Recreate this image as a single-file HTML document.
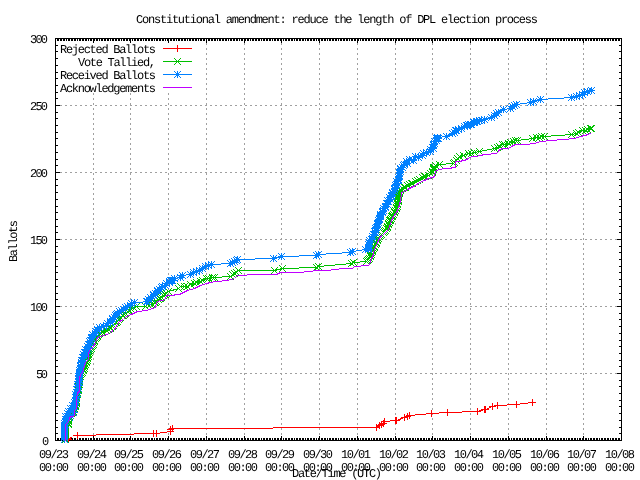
<!DOCTYPE html><html><head><meta charset="utf-8"><title>Constitutional amendment: reduce the length of DPL election process</title><style>html,body{margin:0;padding:0;background:#fff;overflow:hidden}svg{display:block}text{font-family:"Liberation Mono",monospace;font-size:12px;fill:#000;text-rendering:geometricPrecision}</style></head><body>
<svg width="640" height="480" viewBox="0 0 640 480" style="will-change:transform">
<defs>
<path id="mp" d="M-3 0h1v1h-1zM-2 0h1v1h-1zM-1 0h1v1h-1zM0 0h1v1h-1zM1 0h1v1h-1zM2 0h1v1h-1zM3 0h1v1h-1zM0 -3h1v1h-1zM0 -2h1v1h-1zM0 -1h1v1h-1zM0 1h1v1h-1zM0 2h1v1h-1zM0 3h1v1h-1z" fill="#ff0000"/>
<path id="mx" d="M-3 -3h1v1h-1zM-2 -2h1v1h-1zM-1 -1h1v1h-1zM0 0h1v1h-1zM1 1h1v1h-1zM2 2h1v1h-1zM3 3h1v1h-1zM-3 3h1v1h-1zM-2 2h1v1h-1zM-1 1h1v1h-1zM1 -1h1v1h-1zM2 -2h1v1h-1zM3 -3h1v1h-1z" fill="#00c000"/>
<path id="ms" d="M-3 -3h1v1h-1zM-3 0h1v1h-1zM-3 3h1v1h-1zM0 2h1v1h-1zM2 2h1v1h-1zM1 0h1v1h-1zM-2 -2h1v1h-1zM-1 -1h1v1h-1zM-1 1h1v1h-1zM3 -3h1v1h-1zM3 0h1v1h-1zM3 3h1v1h-1zM0 -1h1v1h-1zM0 -2h1v1h-1zM0 1h1v1h-1zM2 -2h1v1h-1zM-2 0h1v1h-1zM-1 0h1v1h-1zM0 -3h1v1h-1zM0 0h1v1h-1zM1 1h1v1h-1zM0 3h1v1h-1zM2 0h1v1h-1zM1 -1h1v1h-1zM-2 2h1v1h-1z" fill="#0080ff"/>
</defs>
<rect width="640" height="480" fill="#fff"/>
<path d="M55 373h2v1h-2zM60 373h2v1h-2zM65 373h2v1h-2zM70 373h2v1h-2zM75 373h2v1h-2zM80 373h2v1h-2zM85 373h2v1h-2zM90 373h2v1h-2zM95 373h2v1h-2zM100 373h2v1h-2zM105 373h2v1h-2zM110 373h2v1h-2zM115 373h2v1h-2zM120 373h2v1h-2zM125 373h2v1h-2zM130 373h2v1h-2zM135 373h2v1h-2zM140 373h2v1h-2zM145 373h2v1h-2zM150 373h2v1h-2zM155 373h2v1h-2zM160 373h2v1h-2zM165 373h2v1h-2zM170 373h2v1h-2zM175 373h2v1h-2zM180 373h2v1h-2zM185 373h2v1h-2zM190 373h2v1h-2zM195 373h2v1h-2zM200 373h2v1h-2zM205 373h2v1h-2zM210 373h2v1h-2zM215 373h2v1h-2zM220 373h2v1h-2zM225 373h2v1h-2zM230 373h2v1h-2zM235 373h2v1h-2zM240 373h2v1h-2zM245 373h2v1h-2zM250 373h2v1h-2zM255 373h2v1h-2zM260 373h2v1h-2zM265 373h2v1h-2zM270 373h2v1h-2zM275 373h2v1h-2zM280 373h2v1h-2zM285 373h2v1h-2zM290 373h2v1h-2zM295 373h2v1h-2zM300 373h2v1h-2zM305 373h2v1h-2zM310 373h2v1h-2zM315 373h2v1h-2zM320 373h2v1h-2zM325 373h2v1h-2zM330 373h2v1h-2zM335 373h2v1h-2zM340 373h2v1h-2zM345 373h2v1h-2zM350 373h2v1h-2zM355 373h2v1h-2zM360 373h2v1h-2zM365 373h2v1h-2zM370 373h2v1h-2zM375 373h2v1h-2zM380 373h2v1h-2zM385 373h2v1h-2zM390 373h2v1h-2zM395 373h2v1h-2zM400 373h2v1h-2zM405 373h2v1h-2zM410 373h2v1h-2zM415 373h2v1h-2zM420 373h2v1h-2zM425 373h2v1h-2zM430 373h2v1h-2zM435 373h2v1h-2zM440 373h2v1h-2zM445 373h2v1h-2zM450 373h2v1h-2zM455 373h2v1h-2zM460 373h2v1h-2zM465 373h2v1h-2zM470 373h2v1h-2zM475 373h2v1h-2zM480 373h2v1h-2zM485 373h2v1h-2zM490 373h2v1h-2zM495 373h2v1h-2zM500 373h2v1h-2zM505 373h2v1h-2zM510 373h2v1h-2zM515 373h2v1h-2zM520 373h2v1h-2zM525 373h2v1h-2zM530 373h2v1h-2zM535 373h2v1h-2zM540 373h2v1h-2zM545 373h2v1h-2zM550 373h2v1h-2zM555 373h2v1h-2zM560 373h2v1h-2zM565 373h2v1h-2zM570 373h2v1h-2zM575 373h2v1h-2zM580 373h2v1h-2zM585 373h2v1h-2zM590 373h2v1h-2zM595 373h2v1h-2zM600 373h2v1h-2zM605 373h2v1h-2zM610 373h2v1h-2zM615 373h2v1h-2zM620 373h2v1h-2zM55 306h2v1h-2zM60 306h2v1h-2zM65 306h2v1h-2zM70 306h2v1h-2zM75 306h2v1h-2zM80 306h2v1h-2zM85 306h2v1h-2zM90 306h2v1h-2zM95 306h2v1h-2zM100 306h2v1h-2zM105 306h2v1h-2zM110 306h2v1h-2zM115 306h2v1h-2zM120 306h2v1h-2zM125 306h2v1h-2zM130 306h2v1h-2zM135 306h2v1h-2zM140 306h2v1h-2zM145 306h2v1h-2zM150 306h2v1h-2zM155 306h2v1h-2zM160 306h2v1h-2zM165 306h2v1h-2zM170 306h2v1h-2zM175 306h2v1h-2zM180 306h2v1h-2zM185 306h2v1h-2zM190 306h2v1h-2zM195 306h2v1h-2zM200 306h2v1h-2zM205 306h2v1h-2zM210 306h2v1h-2zM215 306h2v1h-2zM220 306h2v1h-2zM225 306h2v1h-2zM230 306h2v1h-2zM235 306h2v1h-2zM240 306h2v1h-2zM245 306h2v1h-2zM250 306h2v1h-2zM255 306h2v1h-2zM260 306h2v1h-2zM265 306h2v1h-2zM270 306h2v1h-2zM275 306h2v1h-2zM280 306h2v1h-2zM285 306h2v1h-2zM290 306h2v1h-2zM295 306h2v1h-2zM300 306h2v1h-2zM305 306h2v1h-2zM310 306h2v1h-2zM315 306h2v1h-2zM320 306h2v1h-2zM325 306h2v1h-2zM330 306h2v1h-2zM335 306h2v1h-2zM340 306h2v1h-2zM345 306h2v1h-2zM350 306h2v1h-2zM355 306h2v1h-2zM360 306h2v1h-2zM365 306h2v1h-2zM370 306h2v1h-2zM375 306h2v1h-2zM380 306h2v1h-2zM385 306h2v1h-2zM390 306h2v1h-2zM395 306h2v1h-2zM400 306h2v1h-2zM405 306h2v1h-2zM410 306h2v1h-2zM415 306h2v1h-2zM420 306h2v1h-2zM425 306h2v1h-2zM430 306h2v1h-2zM435 306h2v1h-2zM440 306h2v1h-2zM445 306h2v1h-2zM450 306h2v1h-2zM455 306h2v1h-2zM460 306h2v1h-2zM465 306h2v1h-2zM470 306h2v1h-2zM475 306h2v1h-2zM480 306h2v1h-2zM485 306h2v1h-2zM490 306h2v1h-2zM495 306h2v1h-2zM500 306h2v1h-2zM505 306h2v1h-2zM510 306h2v1h-2zM515 306h2v1h-2zM520 306h2v1h-2zM525 306h2v1h-2zM530 306h2v1h-2zM535 306h2v1h-2zM540 306h2v1h-2zM545 306h2v1h-2zM550 306h2v1h-2zM555 306h2v1h-2zM560 306h2v1h-2zM565 306h2v1h-2zM570 306h2v1h-2zM575 306h2v1h-2zM580 306h2v1h-2zM585 306h2v1h-2zM590 306h2v1h-2zM595 306h2v1h-2zM600 306h2v1h-2zM605 306h2v1h-2zM610 306h2v1h-2zM615 306h2v1h-2zM620 306h2v1h-2zM55 239h2v1h-2zM60 239h2v1h-2zM65 239h2v1h-2zM70 239h2v1h-2zM75 239h2v1h-2zM80 239h2v1h-2zM85 239h2v1h-2zM90 239h2v1h-2zM95 239h2v1h-2zM100 239h2v1h-2zM105 239h2v1h-2zM110 239h2v1h-2zM115 239h2v1h-2zM120 239h2v1h-2zM125 239h2v1h-2zM130 239h2v1h-2zM135 239h2v1h-2zM140 239h2v1h-2zM145 239h2v1h-2zM150 239h2v1h-2zM155 239h2v1h-2zM160 239h2v1h-2zM165 239h2v1h-2zM170 239h2v1h-2zM175 239h2v1h-2zM180 239h2v1h-2zM185 239h2v1h-2zM190 239h2v1h-2zM195 239h2v1h-2zM200 239h2v1h-2zM205 239h2v1h-2zM210 239h2v1h-2zM215 239h2v1h-2zM220 239h2v1h-2zM225 239h2v1h-2zM230 239h2v1h-2zM235 239h2v1h-2zM240 239h2v1h-2zM245 239h2v1h-2zM250 239h2v1h-2zM255 239h2v1h-2zM260 239h2v1h-2zM265 239h2v1h-2zM270 239h2v1h-2zM275 239h2v1h-2zM280 239h2v1h-2zM285 239h2v1h-2zM290 239h2v1h-2zM295 239h2v1h-2zM300 239h2v1h-2zM305 239h2v1h-2zM310 239h2v1h-2zM315 239h2v1h-2zM320 239h2v1h-2zM325 239h2v1h-2zM330 239h2v1h-2zM335 239h2v1h-2zM340 239h2v1h-2zM345 239h2v1h-2zM350 239h2v1h-2zM355 239h2v1h-2zM360 239h2v1h-2zM365 239h2v1h-2zM370 239h2v1h-2zM375 239h2v1h-2zM380 239h2v1h-2zM385 239h2v1h-2zM390 239h2v1h-2zM395 239h2v1h-2zM400 239h2v1h-2zM405 239h2v1h-2zM410 239h2v1h-2zM415 239h2v1h-2zM420 239h2v1h-2zM425 239h2v1h-2zM430 239h2v1h-2zM435 239h2v1h-2zM440 239h2v1h-2zM445 239h2v1h-2zM450 239h2v1h-2zM455 239h2v1h-2zM460 239h2v1h-2zM465 239h2v1h-2zM470 239h2v1h-2zM475 239h2v1h-2zM480 239h2v1h-2zM485 239h2v1h-2zM490 239h2v1h-2zM495 239h2v1h-2zM500 239h2v1h-2zM505 239h2v1h-2zM510 239h2v1h-2zM515 239h2v1h-2zM520 239h2v1h-2zM525 239h2v1h-2zM530 239h2v1h-2zM535 239h2v1h-2zM540 239h2v1h-2zM545 239h2v1h-2zM550 239h2v1h-2zM555 239h2v1h-2zM560 239h2v1h-2zM565 239h2v1h-2zM570 239h2v1h-2zM575 239h2v1h-2zM580 239h2v1h-2zM585 239h2v1h-2zM590 239h2v1h-2zM595 239h2v1h-2zM600 239h2v1h-2zM605 239h2v1h-2zM610 239h2v1h-2zM615 239h2v1h-2zM620 239h2v1h-2zM55 172h2v1h-2zM60 172h2v1h-2zM65 172h2v1h-2zM70 172h2v1h-2zM75 172h2v1h-2zM80 172h2v1h-2zM85 172h2v1h-2zM90 172h2v1h-2zM95 172h2v1h-2zM100 172h2v1h-2zM105 172h2v1h-2zM110 172h2v1h-2zM115 172h2v1h-2zM120 172h2v1h-2zM125 172h2v1h-2zM130 172h2v1h-2zM135 172h2v1h-2zM140 172h2v1h-2zM145 172h2v1h-2zM150 172h2v1h-2zM155 172h2v1h-2zM160 172h2v1h-2zM165 172h2v1h-2zM170 172h2v1h-2zM175 172h2v1h-2zM180 172h2v1h-2zM185 172h2v1h-2zM190 172h2v1h-2zM195 172h2v1h-2zM200 172h2v1h-2zM205 172h2v1h-2zM210 172h2v1h-2zM215 172h2v1h-2zM220 172h2v1h-2zM225 172h2v1h-2zM230 172h2v1h-2zM235 172h2v1h-2zM240 172h2v1h-2zM245 172h2v1h-2zM250 172h2v1h-2zM255 172h2v1h-2zM260 172h2v1h-2zM265 172h2v1h-2zM270 172h2v1h-2zM275 172h2v1h-2zM280 172h2v1h-2zM285 172h2v1h-2zM290 172h2v1h-2zM295 172h2v1h-2zM300 172h2v1h-2zM305 172h2v1h-2zM310 172h2v1h-2zM315 172h2v1h-2zM320 172h2v1h-2zM325 172h2v1h-2zM330 172h2v1h-2zM335 172h2v1h-2zM340 172h2v1h-2zM345 172h2v1h-2zM350 172h2v1h-2zM355 172h2v1h-2zM360 172h2v1h-2zM365 172h2v1h-2zM370 172h2v1h-2zM375 172h2v1h-2zM380 172h2v1h-2zM385 172h2v1h-2zM390 172h2v1h-2zM395 172h2v1h-2zM400 172h2v1h-2zM405 172h2v1h-2zM410 172h2v1h-2zM415 172h2v1h-2zM420 172h2v1h-2zM425 172h2v1h-2zM430 172h2v1h-2zM435 172h2v1h-2zM440 172h2v1h-2zM445 172h2v1h-2zM450 172h2v1h-2zM455 172h2v1h-2zM460 172h2v1h-2zM465 172h2v1h-2zM470 172h2v1h-2zM475 172h2v1h-2zM480 172h2v1h-2zM485 172h2v1h-2zM490 172h2v1h-2zM495 172h2v1h-2zM500 172h2v1h-2zM505 172h2v1h-2zM510 172h2v1h-2zM515 172h2v1h-2zM520 172h2v1h-2zM525 172h2v1h-2zM530 172h2v1h-2zM535 172h2v1h-2zM540 172h2v1h-2zM545 172h2v1h-2zM550 172h2v1h-2zM555 172h2v1h-2zM560 172h2v1h-2zM565 172h2v1h-2zM570 172h2v1h-2zM575 172h2v1h-2zM580 172h2v1h-2zM585 172h2v1h-2zM590 172h2v1h-2zM595 172h2v1h-2zM600 172h2v1h-2zM605 172h2v1h-2zM610 172h2v1h-2zM615 172h2v1h-2zM620 172h2v1h-2zM55 105h2v1h-2zM60 105h2v1h-2zM65 105h2v1h-2zM70 105h2v1h-2zM75 105h2v1h-2zM80 105h2v1h-2zM85 105h2v1h-2zM90 105h2v1h-2zM95 105h2v1h-2zM100 105h2v1h-2zM105 105h2v1h-2zM110 105h2v1h-2zM115 105h2v1h-2zM120 105h2v1h-2zM125 105h2v1h-2zM130 105h2v1h-2zM135 105h2v1h-2zM140 105h2v1h-2zM145 105h2v1h-2zM150 105h2v1h-2zM155 105h2v1h-2zM160 105h2v1h-2zM165 105h2v1h-2zM170 105h2v1h-2zM175 105h2v1h-2zM180 105h2v1h-2zM185 105h2v1h-2zM190 105h2v1h-2zM195 105h2v1h-2zM200 105h2v1h-2zM205 105h2v1h-2zM210 105h2v1h-2zM215 105h2v1h-2zM220 105h2v1h-2zM225 105h2v1h-2zM230 105h2v1h-2zM235 105h2v1h-2zM240 105h2v1h-2zM245 105h2v1h-2zM250 105h2v1h-2zM255 105h2v1h-2zM260 105h2v1h-2zM265 105h2v1h-2zM270 105h2v1h-2zM275 105h2v1h-2zM280 105h2v1h-2zM285 105h2v1h-2zM290 105h2v1h-2zM295 105h2v1h-2zM300 105h2v1h-2zM305 105h2v1h-2zM310 105h2v1h-2zM315 105h2v1h-2zM320 105h2v1h-2zM325 105h2v1h-2zM330 105h2v1h-2zM335 105h2v1h-2zM340 105h2v1h-2zM345 105h2v1h-2zM350 105h2v1h-2zM355 105h2v1h-2zM360 105h2v1h-2zM365 105h2v1h-2zM370 105h2v1h-2zM375 105h2v1h-2zM380 105h2v1h-2zM385 105h2v1h-2zM390 105h2v1h-2zM395 105h2v1h-2zM400 105h2v1h-2zM405 105h2v1h-2zM410 105h2v1h-2zM415 105h2v1h-2zM420 105h2v1h-2zM425 105h2v1h-2zM430 105h2v1h-2zM435 105h2v1h-2zM440 105h2v1h-2zM445 105h2v1h-2zM450 105h2v1h-2zM455 105h2v1h-2zM460 105h2v1h-2zM465 105h2v1h-2zM470 105h2v1h-2zM475 105h2v1h-2zM480 105h2v1h-2zM485 105h2v1h-2zM490 105h2v1h-2zM495 105h2v1h-2zM500 105h2v1h-2zM505 105h2v1h-2zM510 105h2v1h-2zM515 105h2v1h-2zM520 105h2v1h-2zM525 105h2v1h-2zM530 105h2v1h-2zM535 105h2v1h-2zM540 105h2v1h-2zM545 105h2v1h-2zM550 105h2v1h-2zM555 105h2v1h-2zM560 105h2v1h-2zM565 105h2v1h-2zM570 105h2v1h-2zM575 105h2v1h-2zM580 105h2v1h-2zM585 105h2v1h-2zM590 105h2v1h-2zM595 105h2v1h-2zM600 105h2v1h-2zM605 105h2v1h-2zM610 105h2v1h-2zM615 105h2v1h-2zM620 105h2v1h-2zM93 38h1v2h-1zM93 43h1v2h-1zM93 48h1v2h-1zM93 53h1v2h-1zM93 58h1v2h-1zM93 63h1v2h-1zM93 68h1v2h-1zM93 73h1v2h-1zM93 78h1v2h-1zM93 83h1v2h-1zM93 88h1v2h-1zM93 93h1v2h-1zM93 98h1v2h-1zM93 103h1v2h-1zM93 108h1v2h-1zM93 113h1v2h-1zM93 118h1v2h-1zM93 123h1v2h-1zM93 128h1v2h-1zM93 133h1v2h-1zM93 138h1v2h-1zM93 143h1v2h-1zM93 148h1v2h-1zM93 153h1v2h-1zM93 158h1v2h-1zM93 163h1v2h-1zM93 168h1v2h-1zM93 173h1v2h-1zM93 178h1v2h-1zM93 183h1v2h-1zM93 188h1v2h-1zM93 193h1v2h-1zM93 198h1v2h-1zM93 203h1v2h-1zM93 208h1v2h-1zM93 213h1v2h-1zM93 218h1v2h-1zM93 223h1v2h-1zM93 228h1v2h-1zM93 233h1v2h-1zM93 238h1v2h-1zM93 243h1v2h-1zM93 248h1v2h-1zM93 253h1v2h-1zM93 258h1v2h-1zM93 263h1v2h-1zM93 268h1v2h-1zM93 273h1v2h-1zM93 278h1v2h-1zM93 283h1v2h-1zM93 288h1v2h-1zM93 293h1v2h-1zM93 298h1v2h-1zM93 303h1v2h-1zM93 308h1v2h-1zM93 313h1v2h-1zM93 318h1v2h-1zM93 323h1v2h-1zM93 328h1v2h-1zM93 333h1v2h-1zM93 338h1v2h-1zM93 343h1v2h-1zM93 348h1v2h-1zM93 353h1v2h-1zM93 358h1v2h-1zM93 363h1v2h-1zM93 368h1v2h-1zM93 373h1v2h-1zM93 378h1v2h-1zM93 383h1v2h-1zM93 388h1v2h-1zM93 393h1v2h-1zM93 398h1v2h-1zM93 403h1v2h-1zM93 408h1v2h-1zM93 413h1v2h-1zM93 418h1v2h-1zM93 423h1v2h-1zM93 428h1v2h-1zM93 433h1v2h-1zM93 438h1v2h-1zM130 38h1v2h-1zM130 43h1v2h-1zM130 48h1v2h-1zM130 53h1v2h-1zM130 58h1v2h-1zM130 63h1v2h-1zM130 68h1v2h-1zM130 73h1v2h-1zM130 78h1v2h-1zM130 83h1v2h-1zM130 88h1v2h-1zM130 93h1v2h-1zM130 98h1v2h-1zM130 103h1v2h-1zM130 108h1v2h-1zM130 113h1v2h-1zM130 118h1v2h-1zM130 123h1v2h-1zM130 128h1v2h-1zM130 133h1v2h-1zM130 138h1v2h-1zM130 143h1v2h-1zM130 148h1v2h-1zM130 153h1v2h-1zM130 158h1v2h-1zM130 163h1v2h-1zM130 168h1v2h-1zM130 173h1v2h-1zM130 178h1v2h-1zM130 183h1v2h-1zM130 188h1v2h-1zM130 193h1v2h-1zM130 198h1v2h-1zM130 203h1v2h-1zM130 208h1v2h-1zM130 213h1v2h-1zM130 218h1v2h-1zM130 223h1v2h-1zM130 228h1v2h-1zM130 233h1v2h-1zM130 238h1v2h-1zM130 243h1v2h-1zM130 248h1v2h-1zM130 253h1v2h-1zM130 258h1v2h-1zM130 263h1v2h-1zM130 268h1v2h-1zM130 273h1v2h-1zM130 278h1v2h-1zM130 283h1v2h-1zM130 288h1v2h-1zM130 293h1v2h-1zM130 298h1v2h-1zM130 303h1v2h-1zM130 308h1v2h-1zM130 313h1v2h-1zM130 318h1v2h-1zM130 323h1v2h-1zM130 328h1v2h-1zM130 333h1v2h-1zM130 338h1v2h-1zM130 343h1v2h-1zM130 348h1v2h-1zM130 353h1v2h-1zM130 358h1v2h-1zM130 363h1v2h-1zM130 368h1v2h-1zM130 373h1v2h-1zM130 378h1v2h-1zM130 383h1v2h-1zM130 388h1v2h-1zM130 393h1v2h-1zM130 398h1v2h-1zM130 403h1v2h-1zM130 408h1v2h-1zM130 413h1v2h-1zM130 418h1v2h-1zM130 423h1v2h-1zM130 428h1v2h-1zM130 433h1v2h-1zM130 438h1v2h-1zM168 38h1v2h-1zM168 43h1v2h-1zM168 48h1v2h-1zM168 53h1v2h-1zM168 58h1v2h-1zM168 63h1v2h-1zM168 68h1v2h-1zM168 73h1v2h-1zM168 78h1v2h-1zM168 83h1v2h-1zM168 88h1v2h-1zM168 93h1v2h-1zM168 98h1v2h-1zM168 103h1v2h-1zM168 108h1v2h-1zM168 113h1v2h-1zM168 118h1v2h-1zM168 123h1v2h-1zM168 128h1v2h-1zM168 133h1v2h-1zM168 138h1v2h-1zM168 143h1v2h-1zM168 148h1v2h-1zM168 153h1v2h-1zM168 158h1v2h-1zM168 163h1v2h-1zM168 168h1v2h-1zM168 173h1v2h-1zM168 178h1v2h-1zM168 183h1v2h-1zM168 188h1v2h-1zM168 193h1v2h-1zM168 198h1v2h-1zM168 203h1v2h-1zM168 208h1v2h-1zM168 213h1v2h-1zM168 218h1v2h-1zM168 223h1v2h-1zM168 228h1v2h-1zM168 233h1v2h-1zM168 238h1v2h-1zM168 243h1v2h-1zM168 248h1v2h-1zM168 253h1v2h-1zM168 258h1v2h-1zM168 263h1v2h-1zM168 268h1v2h-1zM168 273h1v2h-1zM168 278h1v2h-1zM168 283h1v2h-1zM168 288h1v2h-1zM168 293h1v2h-1zM168 298h1v2h-1zM168 303h1v2h-1zM168 308h1v2h-1zM168 313h1v2h-1zM168 318h1v2h-1zM168 323h1v2h-1zM168 328h1v2h-1zM168 333h1v2h-1zM168 338h1v2h-1zM168 343h1v2h-1zM168 348h1v2h-1zM168 353h1v2h-1zM168 358h1v2h-1zM168 363h1v2h-1zM168 368h1v2h-1zM168 373h1v2h-1zM168 378h1v2h-1zM168 383h1v2h-1zM168 388h1v2h-1zM168 393h1v2h-1zM168 398h1v2h-1zM168 403h1v2h-1zM168 408h1v2h-1zM168 413h1v2h-1zM168 418h1v2h-1zM168 423h1v2h-1zM168 428h1v2h-1zM168 433h1v2h-1zM168 438h1v2h-1zM206 38h1v2h-1zM206 43h1v2h-1zM206 48h1v2h-1zM206 53h1v2h-1zM206 58h1v2h-1zM206 63h1v2h-1zM206 68h1v2h-1zM206 73h1v2h-1zM206 78h1v2h-1zM206 83h1v2h-1zM206 88h1v2h-1zM206 93h1v2h-1zM206 98h1v2h-1zM206 103h1v2h-1zM206 108h1v2h-1zM206 113h1v2h-1zM206 118h1v2h-1zM206 123h1v2h-1zM206 128h1v2h-1zM206 133h1v2h-1zM206 138h1v2h-1zM206 143h1v2h-1zM206 148h1v2h-1zM206 153h1v2h-1zM206 158h1v2h-1zM206 163h1v2h-1zM206 168h1v2h-1zM206 173h1v2h-1zM206 178h1v2h-1zM206 183h1v2h-1zM206 188h1v2h-1zM206 193h1v2h-1zM206 198h1v2h-1zM206 203h1v2h-1zM206 208h1v2h-1zM206 213h1v2h-1zM206 218h1v2h-1zM206 223h1v2h-1zM206 228h1v2h-1zM206 233h1v2h-1zM206 238h1v2h-1zM206 243h1v2h-1zM206 248h1v2h-1zM206 253h1v2h-1zM206 258h1v2h-1zM206 263h1v2h-1zM206 268h1v2h-1zM206 273h1v2h-1zM206 278h1v2h-1zM206 283h1v2h-1zM206 288h1v2h-1zM206 293h1v2h-1zM206 298h1v2h-1zM206 303h1v2h-1zM206 308h1v2h-1zM206 313h1v2h-1zM206 318h1v2h-1zM206 323h1v2h-1zM206 328h1v2h-1zM206 333h1v2h-1zM206 338h1v2h-1zM206 343h1v2h-1zM206 348h1v2h-1zM206 353h1v2h-1zM206 358h1v2h-1zM206 363h1v2h-1zM206 368h1v2h-1zM206 373h1v2h-1zM206 378h1v2h-1zM206 383h1v2h-1zM206 388h1v2h-1zM206 393h1v2h-1zM206 398h1v2h-1zM206 403h1v2h-1zM206 408h1v2h-1zM206 413h1v2h-1zM206 418h1v2h-1zM206 423h1v2h-1zM206 428h1v2h-1zM206 433h1v2h-1zM206 438h1v2h-1zM244 38h1v2h-1zM244 43h1v2h-1zM244 48h1v2h-1zM244 53h1v2h-1zM244 58h1v2h-1zM244 63h1v2h-1zM244 68h1v2h-1zM244 73h1v2h-1zM244 78h1v2h-1zM244 83h1v2h-1zM244 88h1v2h-1zM244 93h1v2h-1zM244 98h1v2h-1zM244 103h1v2h-1zM244 108h1v2h-1zM244 113h1v2h-1zM244 118h1v2h-1zM244 123h1v2h-1zM244 128h1v2h-1zM244 133h1v2h-1zM244 138h1v2h-1zM244 143h1v2h-1zM244 148h1v2h-1zM244 153h1v2h-1zM244 158h1v2h-1zM244 163h1v2h-1zM244 168h1v2h-1zM244 173h1v2h-1zM244 178h1v2h-1zM244 183h1v2h-1zM244 188h1v2h-1zM244 193h1v2h-1zM244 198h1v2h-1zM244 203h1v2h-1zM244 208h1v2h-1zM244 213h1v2h-1zM244 218h1v2h-1zM244 223h1v2h-1zM244 228h1v2h-1zM244 233h1v2h-1zM244 238h1v2h-1zM244 243h1v2h-1zM244 248h1v2h-1zM244 253h1v2h-1zM244 258h1v2h-1zM244 263h1v2h-1zM244 268h1v2h-1zM244 273h1v2h-1zM244 278h1v2h-1zM244 283h1v2h-1zM244 288h1v2h-1zM244 293h1v2h-1zM244 298h1v2h-1zM244 303h1v2h-1zM244 308h1v2h-1zM244 313h1v2h-1zM244 318h1v2h-1zM244 323h1v2h-1zM244 328h1v2h-1zM244 333h1v2h-1zM244 338h1v2h-1zM244 343h1v2h-1zM244 348h1v2h-1zM244 353h1v2h-1zM244 358h1v2h-1zM244 363h1v2h-1zM244 368h1v2h-1zM244 373h1v2h-1zM244 378h1v2h-1zM244 383h1v2h-1zM244 388h1v2h-1zM244 393h1v2h-1zM244 398h1v2h-1zM244 403h1v2h-1zM244 408h1v2h-1zM244 413h1v2h-1zM244 418h1v2h-1zM244 423h1v2h-1zM244 428h1v2h-1zM244 433h1v2h-1zM244 438h1v2h-1zM281 38h1v2h-1zM281 43h1v2h-1zM281 48h1v2h-1zM281 53h1v2h-1zM281 58h1v2h-1zM281 63h1v2h-1zM281 68h1v2h-1zM281 73h1v2h-1zM281 78h1v2h-1zM281 83h1v2h-1zM281 88h1v2h-1zM281 93h1v2h-1zM281 98h1v2h-1zM281 103h1v2h-1zM281 108h1v2h-1zM281 113h1v2h-1zM281 118h1v2h-1zM281 123h1v2h-1zM281 128h1v2h-1zM281 133h1v2h-1zM281 138h1v2h-1zM281 143h1v2h-1zM281 148h1v2h-1zM281 153h1v2h-1zM281 158h1v2h-1zM281 163h1v2h-1zM281 168h1v2h-1zM281 173h1v2h-1zM281 178h1v2h-1zM281 183h1v2h-1zM281 188h1v2h-1zM281 193h1v2h-1zM281 198h1v2h-1zM281 203h1v2h-1zM281 208h1v2h-1zM281 213h1v2h-1zM281 218h1v2h-1zM281 223h1v2h-1zM281 228h1v2h-1zM281 233h1v2h-1zM281 238h1v2h-1zM281 243h1v2h-1zM281 248h1v2h-1zM281 253h1v2h-1zM281 258h1v2h-1zM281 263h1v2h-1zM281 268h1v2h-1zM281 273h1v2h-1zM281 278h1v2h-1zM281 283h1v2h-1zM281 288h1v2h-1zM281 293h1v2h-1zM281 298h1v2h-1zM281 303h1v2h-1zM281 308h1v2h-1zM281 313h1v2h-1zM281 318h1v2h-1zM281 323h1v2h-1zM281 328h1v2h-1zM281 333h1v2h-1zM281 338h1v2h-1zM281 343h1v2h-1zM281 348h1v2h-1zM281 353h1v2h-1zM281 358h1v2h-1zM281 363h1v2h-1zM281 368h1v2h-1zM281 373h1v2h-1zM281 378h1v2h-1zM281 383h1v2h-1zM281 388h1v2h-1zM281 393h1v2h-1zM281 398h1v2h-1zM281 403h1v2h-1zM281 408h1v2h-1zM281 413h1v2h-1zM281 418h1v2h-1zM281 423h1v2h-1zM281 428h1v2h-1zM281 433h1v2h-1zM281 438h1v2h-1zM319 38h1v2h-1zM319 43h1v2h-1zM319 48h1v2h-1zM319 53h1v2h-1zM319 58h1v2h-1zM319 63h1v2h-1zM319 68h1v2h-1zM319 73h1v2h-1zM319 78h1v2h-1zM319 83h1v2h-1zM319 88h1v2h-1zM319 93h1v2h-1zM319 98h1v2h-1zM319 103h1v2h-1zM319 108h1v2h-1zM319 113h1v2h-1zM319 118h1v2h-1zM319 123h1v2h-1zM319 128h1v2h-1zM319 133h1v2h-1zM319 138h1v2h-1zM319 143h1v2h-1zM319 148h1v2h-1zM319 153h1v2h-1zM319 158h1v2h-1zM319 163h1v2h-1zM319 168h1v2h-1zM319 173h1v2h-1zM319 178h1v2h-1zM319 183h1v2h-1zM319 188h1v2h-1zM319 193h1v2h-1zM319 198h1v2h-1zM319 203h1v2h-1zM319 208h1v2h-1zM319 213h1v2h-1zM319 218h1v2h-1zM319 223h1v2h-1zM319 228h1v2h-1zM319 233h1v2h-1zM319 238h1v2h-1zM319 243h1v2h-1zM319 248h1v2h-1zM319 253h1v2h-1zM319 258h1v2h-1zM319 263h1v2h-1zM319 268h1v2h-1zM319 273h1v2h-1zM319 278h1v2h-1zM319 283h1v2h-1zM319 288h1v2h-1zM319 293h1v2h-1zM319 298h1v2h-1zM319 303h1v2h-1zM319 308h1v2h-1zM319 313h1v2h-1zM319 318h1v2h-1zM319 323h1v2h-1zM319 328h1v2h-1zM319 333h1v2h-1zM319 338h1v2h-1zM319 343h1v2h-1zM319 348h1v2h-1zM319 353h1v2h-1zM319 358h1v2h-1zM319 363h1v2h-1zM319 368h1v2h-1zM319 373h1v2h-1zM319 378h1v2h-1zM319 383h1v2h-1zM319 388h1v2h-1zM319 393h1v2h-1zM319 398h1v2h-1zM319 403h1v2h-1zM319 408h1v2h-1zM319 413h1v2h-1zM319 418h1v2h-1zM319 423h1v2h-1zM319 428h1v2h-1zM319 433h1v2h-1zM319 438h1v2h-1zM357 38h1v2h-1zM357 43h1v2h-1zM357 48h1v2h-1zM357 53h1v2h-1zM357 58h1v2h-1zM357 63h1v2h-1zM357 68h1v2h-1zM357 73h1v2h-1zM357 78h1v2h-1zM357 83h1v2h-1zM357 88h1v2h-1zM357 93h1v2h-1zM357 98h1v2h-1zM357 103h1v2h-1zM357 108h1v2h-1zM357 113h1v2h-1zM357 118h1v2h-1zM357 123h1v2h-1zM357 128h1v2h-1zM357 133h1v2h-1zM357 138h1v2h-1zM357 143h1v2h-1zM357 148h1v2h-1zM357 153h1v2h-1zM357 158h1v2h-1zM357 163h1v2h-1zM357 168h1v2h-1zM357 173h1v2h-1zM357 178h1v2h-1zM357 183h1v2h-1zM357 188h1v2h-1zM357 193h1v2h-1zM357 198h1v2h-1zM357 203h1v2h-1zM357 208h1v2h-1zM357 213h1v2h-1zM357 218h1v2h-1zM357 223h1v2h-1zM357 228h1v2h-1zM357 233h1v2h-1zM357 238h1v2h-1zM357 243h1v2h-1zM357 248h1v2h-1zM357 253h1v2h-1zM357 258h1v2h-1zM357 263h1v2h-1zM357 268h1v2h-1zM357 273h1v2h-1zM357 278h1v2h-1zM357 283h1v2h-1zM357 288h1v2h-1zM357 293h1v2h-1zM357 298h1v2h-1zM357 303h1v2h-1zM357 308h1v2h-1zM357 313h1v2h-1zM357 318h1v2h-1zM357 323h1v2h-1zM357 328h1v2h-1zM357 333h1v2h-1zM357 338h1v2h-1zM357 343h1v2h-1zM357 348h1v2h-1zM357 353h1v2h-1zM357 358h1v2h-1zM357 363h1v2h-1zM357 368h1v2h-1zM357 373h1v2h-1zM357 378h1v2h-1zM357 383h1v2h-1zM357 388h1v2h-1zM357 393h1v2h-1zM357 398h1v2h-1zM357 403h1v2h-1zM357 408h1v2h-1zM357 413h1v2h-1zM357 418h1v2h-1zM357 423h1v2h-1zM357 428h1v2h-1zM357 433h1v2h-1zM357 438h1v2h-1zM395 38h1v2h-1zM395 43h1v2h-1zM395 48h1v2h-1zM395 53h1v2h-1zM395 58h1v2h-1zM395 63h1v2h-1zM395 68h1v2h-1zM395 73h1v2h-1zM395 78h1v2h-1zM395 83h1v2h-1zM395 88h1v2h-1zM395 93h1v2h-1zM395 98h1v2h-1zM395 103h1v2h-1zM395 108h1v2h-1zM395 113h1v2h-1zM395 118h1v2h-1zM395 123h1v2h-1zM395 128h1v2h-1zM395 133h1v2h-1zM395 138h1v2h-1zM395 143h1v2h-1zM395 148h1v2h-1zM395 153h1v2h-1zM395 158h1v2h-1zM395 163h1v2h-1zM395 168h1v2h-1zM395 173h1v2h-1zM395 178h1v2h-1zM395 183h1v2h-1zM395 188h1v2h-1zM395 193h1v2h-1zM395 198h1v2h-1zM395 203h1v2h-1zM395 208h1v2h-1zM395 213h1v2h-1zM395 218h1v2h-1zM395 223h1v2h-1zM395 228h1v2h-1zM395 233h1v2h-1zM395 238h1v2h-1zM395 243h1v2h-1zM395 248h1v2h-1zM395 253h1v2h-1zM395 258h1v2h-1zM395 263h1v2h-1zM395 268h1v2h-1zM395 273h1v2h-1zM395 278h1v2h-1zM395 283h1v2h-1zM395 288h1v2h-1zM395 293h1v2h-1zM395 298h1v2h-1zM395 303h1v2h-1zM395 308h1v2h-1zM395 313h1v2h-1zM395 318h1v2h-1zM395 323h1v2h-1zM395 328h1v2h-1zM395 333h1v2h-1zM395 338h1v2h-1zM395 343h1v2h-1zM395 348h1v2h-1zM395 353h1v2h-1zM395 358h1v2h-1zM395 363h1v2h-1zM395 368h1v2h-1zM395 373h1v2h-1zM395 378h1v2h-1zM395 383h1v2h-1zM395 388h1v2h-1zM395 393h1v2h-1zM395 398h1v2h-1zM395 403h1v2h-1zM395 408h1v2h-1zM395 413h1v2h-1zM395 418h1v2h-1zM395 423h1v2h-1zM395 428h1v2h-1zM395 433h1v2h-1zM395 438h1v2h-1zM432 38h1v2h-1zM432 43h1v2h-1zM432 48h1v2h-1zM432 53h1v2h-1zM432 58h1v2h-1zM432 63h1v2h-1zM432 68h1v2h-1zM432 73h1v2h-1zM432 78h1v2h-1zM432 83h1v2h-1zM432 88h1v2h-1zM432 93h1v2h-1zM432 98h1v2h-1zM432 103h1v2h-1zM432 108h1v2h-1zM432 113h1v2h-1zM432 118h1v2h-1zM432 123h1v2h-1zM432 128h1v2h-1zM432 133h1v2h-1zM432 138h1v2h-1zM432 143h1v2h-1zM432 148h1v2h-1zM432 153h1v2h-1zM432 158h1v2h-1zM432 163h1v2h-1zM432 168h1v2h-1zM432 173h1v2h-1zM432 178h1v2h-1zM432 183h1v2h-1zM432 188h1v2h-1zM432 193h1v2h-1zM432 198h1v2h-1zM432 203h1v2h-1zM432 208h1v2h-1zM432 213h1v2h-1zM432 218h1v2h-1zM432 223h1v2h-1zM432 228h1v2h-1zM432 233h1v2h-1zM432 238h1v2h-1zM432 243h1v2h-1zM432 248h1v2h-1zM432 253h1v2h-1zM432 258h1v2h-1zM432 263h1v2h-1zM432 268h1v2h-1zM432 273h1v2h-1zM432 278h1v2h-1zM432 283h1v2h-1zM432 288h1v2h-1zM432 293h1v2h-1zM432 298h1v2h-1zM432 303h1v2h-1zM432 308h1v2h-1zM432 313h1v2h-1zM432 318h1v2h-1zM432 323h1v2h-1zM432 328h1v2h-1zM432 333h1v2h-1zM432 338h1v2h-1zM432 343h1v2h-1zM432 348h1v2h-1zM432 353h1v2h-1zM432 358h1v2h-1zM432 363h1v2h-1zM432 368h1v2h-1zM432 373h1v2h-1zM432 378h1v2h-1zM432 383h1v2h-1zM432 388h1v2h-1zM432 393h1v2h-1zM432 398h1v2h-1zM432 403h1v2h-1zM432 408h1v2h-1zM432 413h1v2h-1zM432 418h1v2h-1zM432 423h1v2h-1zM432 428h1v2h-1zM432 433h1v2h-1zM432 438h1v2h-1zM470 38h1v2h-1zM470 43h1v2h-1zM470 48h1v2h-1zM470 53h1v2h-1zM470 58h1v2h-1zM470 63h1v2h-1zM470 68h1v2h-1zM470 73h1v2h-1zM470 78h1v2h-1zM470 83h1v2h-1zM470 88h1v2h-1zM470 93h1v2h-1zM470 98h1v2h-1zM470 103h1v2h-1zM470 108h1v2h-1zM470 113h1v2h-1zM470 118h1v2h-1zM470 123h1v2h-1zM470 128h1v2h-1zM470 133h1v2h-1zM470 138h1v2h-1zM470 143h1v2h-1zM470 148h1v2h-1zM470 153h1v2h-1zM470 158h1v2h-1zM470 163h1v2h-1zM470 168h1v2h-1zM470 173h1v2h-1zM470 178h1v2h-1zM470 183h1v2h-1zM470 188h1v2h-1zM470 193h1v2h-1zM470 198h1v2h-1zM470 203h1v2h-1zM470 208h1v2h-1zM470 213h1v2h-1zM470 218h1v2h-1zM470 223h1v2h-1zM470 228h1v2h-1zM470 233h1v2h-1zM470 238h1v2h-1zM470 243h1v2h-1zM470 248h1v2h-1zM470 253h1v2h-1zM470 258h1v2h-1zM470 263h1v2h-1zM470 268h1v2h-1zM470 273h1v2h-1zM470 278h1v2h-1zM470 283h1v2h-1zM470 288h1v2h-1zM470 293h1v2h-1zM470 298h1v2h-1zM470 303h1v2h-1zM470 308h1v2h-1zM470 313h1v2h-1zM470 318h1v2h-1zM470 323h1v2h-1zM470 328h1v2h-1zM470 333h1v2h-1zM470 338h1v2h-1zM470 343h1v2h-1zM470 348h1v2h-1zM470 353h1v2h-1zM470 358h1v2h-1zM470 363h1v2h-1zM470 368h1v2h-1zM470 373h1v2h-1zM470 378h1v2h-1zM470 383h1v2h-1zM470 388h1v2h-1zM470 393h1v2h-1zM470 398h1v2h-1zM470 403h1v2h-1zM470 408h1v2h-1zM470 413h1v2h-1zM470 418h1v2h-1zM470 423h1v2h-1zM470 428h1v2h-1zM470 433h1v2h-1zM470 438h1v2h-1zM508 38h1v2h-1zM508 43h1v2h-1zM508 48h1v2h-1zM508 53h1v2h-1zM508 58h1v2h-1zM508 63h1v2h-1zM508 68h1v2h-1zM508 73h1v2h-1zM508 78h1v2h-1zM508 83h1v2h-1zM508 88h1v2h-1zM508 93h1v2h-1zM508 98h1v2h-1zM508 103h1v2h-1zM508 108h1v2h-1zM508 113h1v2h-1zM508 118h1v2h-1zM508 123h1v2h-1zM508 128h1v2h-1zM508 133h1v2h-1zM508 138h1v2h-1zM508 143h1v2h-1zM508 148h1v2h-1zM508 153h1v2h-1zM508 158h1v2h-1zM508 163h1v2h-1zM508 168h1v2h-1zM508 173h1v2h-1zM508 178h1v2h-1zM508 183h1v2h-1zM508 188h1v2h-1zM508 193h1v2h-1zM508 198h1v2h-1zM508 203h1v2h-1zM508 208h1v2h-1zM508 213h1v2h-1zM508 218h1v2h-1zM508 223h1v2h-1zM508 228h1v2h-1zM508 233h1v2h-1zM508 238h1v2h-1zM508 243h1v2h-1zM508 248h1v2h-1zM508 253h1v2h-1zM508 258h1v2h-1zM508 263h1v2h-1zM508 268h1v2h-1zM508 273h1v2h-1zM508 278h1v2h-1zM508 283h1v2h-1zM508 288h1v2h-1zM508 293h1v2h-1zM508 298h1v2h-1zM508 303h1v2h-1zM508 308h1v2h-1zM508 313h1v2h-1zM508 318h1v2h-1zM508 323h1v2h-1zM508 328h1v2h-1zM508 333h1v2h-1zM508 338h1v2h-1zM508 343h1v2h-1zM508 348h1v2h-1zM508 353h1v2h-1zM508 358h1v2h-1zM508 363h1v2h-1zM508 368h1v2h-1zM508 373h1v2h-1zM508 378h1v2h-1zM508 383h1v2h-1zM508 388h1v2h-1zM508 393h1v2h-1zM508 398h1v2h-1zM508 403h1v2h-1zM508 408h1v2h-1zM508 413h1v2h-1zM508 418h1v2h-1zM508 423h1v2h-1zM508 428h1v2h-1zM508 433h1v2h-1zM508 438h1v2h-1zM546 38h1v2h-1zM546 43h1v2h-1zM546 48h1v2h-1zM546 53h1v2h-1zM546 58h1v2h-1zM546 63h1v2h-1zM546 68h1v2h-1zM546 73h1v2h-1zM546 78h1v2h-1zM546 83h1v2h-1zM546 88h1v2h-1zM546 93h1v2h-1zM546 98h1v2h-1zM546 103h1v2h-1zM546 108h1v2h-1zM546 113h1v2h-1zM546 118h1v2h-1zM546 123h1v2h-1zM546 128h1v2h-1zM546 133h1v2h-1zM546 138h1v2h-1zM546 143h1v2h-1zM546 148h1v2h-1zM546 153h1v2h-1zM546 158h1v2h-1zM546 163h1v2h-1zM546 168h1v2h-1zM546 173h1v2h-1zM546 178h1v2h-1zM546 183h1v2h-1zM546 188h1v2h-1zM546 193h1v2h-1zM546 198h1v2h-1zM546 203h1v2h-1zM546 208h1v2h-1zM546 213h1v2h-1zM546 218h1v2h-1zM546 223h1v2h-1zM546 228h1v2h-1zM546 233h1v2h-1zM546 238h1v2h-1zM546 243h1v2h-1zM546 248h1v2h-1zM546 253h1v2h-1zM546 258h1v2h-1zM546 263h1v2h-1zM546 268h1v2h-1zM546 273h1v2h-1zM546 278h1v2h-1zM546 283h1v2h-1zM546 288h1v2h-1zM546 293h1v2h-1zM546 298h1v2h-1zM546 303h1v2h-1zM546 308h1v2h-1zM546 313h1v2h-1zM546 318h1v2h-1zM546 323h1v2h-1zM546 328h1v2h-1zM546 333h1v2h-1zM546 338h1v2h-1zM546 343h1v2h-1zM546 348h1v2h-1zM546 353h1v2h-1zM546 358h1v2h-1zM546 363h1v2h-1zM546 368h1v2h-1zM546 373h1v2h-1zM546 378h1v2h-1zM546 383h1v2h-1zM546 388h1v2h-1zM546 393h1v2h-1zM546 398h1v2h-1zM546 403h1v2h-1zM546 408h1v2h-1zM546 413h1v2h-1zM546 418h1v2h-1zM546 423h1v2h-1zM546 428h1v2h-1zM546 433h1v2h-1zM546 438h1v2h-1zM583 38h1v2h-1zM583 43h1v2h-1zM583 48h1v2h-1zM583 53h1v2h-1zM583 58h1v2h-1zM583 63h1v2h-1zM583 68h1v2h-1zM583 73h1v2h-1zM583 78h1v2h-1zM583 83h1v2h-1zM583 88h1v2h-1zM583 93h1v2h-1zM583 98h1v2h-1zM583 103h1v2h-1zM583 108h1v2h-1zM583 113h1v2h-1zM583 118h1v2h-1zM583 123h1v2h-1zM583 128h1v2h-1zM583 133h1v2h-1zM583 138h1v2h-1zM583 143h1v2h-1zM583 148h1v2h-1zM583 153h1v2h-1zM583 158h1v2h-1zM583 163h1v2h-1zM583 168h1v2h-1zM583 173h1v2h-1zM583 178h1v2h-1zM583 183h1v2h-1zM583 188h1v2h-1zM583 193h1v2h-1zM583 198h1v2h-1zM583 203h1v2h-1zM583 208h1v2h-1zM583 213h1v2h-1zM583 218h1v2h-1zM583 223h1v2h-1zM583 228h1v2h-1zM583 233h1v2h-1zM583 238h1v2h-1zM583 243h1v2h-1zM583 248h1v2h-1zM583 253h1v2h-1zM583 258h1v2h-1zM583 263h1v2h-1zM583 268h1v2h-1zM583 273h1v2h-1zM583 278h1v2h-1zM583 283h1v2h-1zM583 288h1v2h-1zM583 293h1v2h-1zM583 298h1v2h-1zM583 303h1v2h-1zM583 308h1v2h-1zM583 313h1v2h-1zM583 318h1v2h-1zM583 323h1v2h-1zM583 328h1v2h-1zM583 333h1v2h-1zM583 338h1v2h-1zM583 343h1v2h-1zM583 348h1v2h-1zM583 353h1v2h-1zM583 358h1v2h-1zM583 363h1v2h-1zM583 368h1v2h-1zM583 373h1v2h-1zM583 378h1v2h-1zM583 383h1v2h-1zM583 388h1v2h-1zM583 393h1v2h-1zM583 398h1v2h-1zM583 403h1v2h-1zM583 408h1v2h-1zM583 413h1v2h-1zM583 418h1v2h-1zM583 423h1v2h-1zM583 428h1v2h-1zM583 433h1v2h-1zM583 438h1v2h-1z" fill="#a0a0a0"/>
<rect x="56" y="39" width="145" height="53" fill="#fff"/>
<path d="M55.5 38.5H621.5V440.5H55.5ZM56 440.5h4M621 440.5h-4M56 433.5h2M621 433.5h-2M56 427.5h2M621 427.5h-2M56 420.5h2M621 420.5h-2M56 413.5h2M621 413.5h-2M56 406.5h2M621 406.5h-2M56 400.5h2M621 400.5h-2M56 393.5h2M621 393.5h-2M56 386.5h2M621 386.5h-2M56 380.5h2M621 380.5h-2M56 373.5h4M621 373.5h-4M56 366.5h2M621 366.5h-2M56 360.5h2M621 360.5h-2M56 353.5h2M621 353.5h-2M56 346.5h2M621 346.5h-2M56 340.5h2M621 340.5h-2M56 333.5h2M621 333.5h-2M56 326.5h2M621 326.5h-2M56 319.5h2M621 319.5h-2M56 313.5h2M621 313.5h-2M56 306.5h4M621 306.5h-4M56 299.5h2M621 299.5h-2M56 293.5h2M621 293.5h-2M56 286.5h2M621 286.5h-2M56 279.5h2M621 279.5h-2M56 272.5h2M621 272.5h-2M56 266.5h2M621 266.5h-2M56 259.5h2M621 259.5h-2M56 252.5h2M621 252.5h-2M56 246.5h2M621 246.5h-2M56 239.5h4M621 239.5h-4M56 232.5h2M621 232.5h-2M56 226.5h2M621 226.5h-2M56 219.5h2M621 219.5h-2M56 212.5h2M621 212.5h-2M56 206.5h2M621 206.5h-2M56 199.5h2M621 199.5h-2M56 192.5h2M621 192.5h-2M56 185.5h2M621 185.5h-2M56 179.5h2M621 179.5h-2M56 172.5h4M621 172.5h-4M56 165.5h2M621 165.5h-2M56 159.5h2M621 159.5h-2M56 152.5h2M621 152.5h-2M56 145.5h2M621 145.5h-2M56 138.5h2M621 138.5h-2M56 132.5h2M621 132.5h-2M56 125.5h2M621 125.5h-2M56 118.5h2M621 118.5h-2M56 112.5h2M621 112.5h-2M56 105.5h4M621 105.5h-4M56 98.5h2M621 98.5h-2M56 92.5h2M621 92.5h-2M56 85.5h2M621 85.5h-2M56 78.5h2M621 78.5h-2M56 72.5h2M621 72.5h-2M56 65.5h2M621 65.5h-2M56 58.5h2M621 58.5h-2M56 51.5h2M621 51.5h-2M56 45.5h2M621 45.5h-2M56 38.5h4M621 38.5h-4M55.5 440v-4M55.5 39v4M57.5 440v-2M57.5 39v2M58.5 440v-2M58.5 39v2M60.5 440v-2M60.5 39v2M61.5 440v-2M61.5 39v2M63.5 440v-2M63.5 39v2M64.5 440v-2M64.5 39v2M66.5 440v-2M66.5 39v2M68.5 440v-2M68.5 39v2M69.5 440v-2M69.5 39v2M71.5 440v-2M71.5 39v2M72.5 440v-2M72.5 39v2M74.5 440v-2M74.5 39v2M75.5 440v-2M75.5 39v2M77.5 440v-2M77.5 39v2M79.5 440v-2M79.5 39v2M80.5 440v-2M80.5 39v2M82.5 440v-2M82.5 39v2M83.5 440v-2M83.5 39v2M85.5 440v-2M85.5 39v2M86.5 440v-2M86.5 39v2M88.5 440v-2M88.5 39v2M90.5 440v-2M90.5 39v2M91.5 440v-2M91.5 39v2M93.5 440v-4M93.5 39v4M94.5 440v-2M94.5 39v2M96.5 440v-2M96.5 39v2M97.5 440v-2M97.5 39v2M99.5 440v-2M99.5 39v2M101.5 440v-2M101.5 39v2M102.5 440v-2M102.5 39v2M104.5 440v-2M104.5 39v2M105.5 440v-2M105.5 39v2M107.5 440v-2M107.5 39v2M108.5 440v-2M108.5 39v2M110.5 440v-2M110.5 39v2M112.5 440v-2M112.5 39v2M113.5 440v-2M113.5 39v2M115.5 440v-2M115.5 39v2M116.5 440v-2M116.5 39v2M118.5 440v-2M118.5 39v2M119.5 440v-2M119.5 39v2M121.5 440v-2M121.5 39v2M123.5 440v-2M123.5 39v2M124.5 440v-2M124.5 39v2M126.5 440v-2M126.5 39v2M127.5 440v-2M127.5 39v2M129.5 440v-2M129.5 39v2M130.5 440v-4M130.5 39v4M132.5 440v-2M132.5 39v2M134.5 440v-2M134.5 39v2M135.5 440v-2M135.5 39v2M137.5 440v-2M137.5 39v2M138.5 440v-2M138.5 39v2M140.5 440v-2M140.5 39v2M141.5 440v-2M141.5 39v2M143.5 440v-2M143.5 39v2M145.5 440v-2M145.5 39v2M146.5 440v-2M146.5 39v2M148.5 440v-2M148.5 39v2M149.5 440v-2M149.5 39v2M151.5 440v-2M151.5 39v2M152.5 440v-2M152.5 39v2M154.5 440v-2M154.5 39v2M156.5 440v-2M156.5 39v2M157.5 440v-2M157.5 39v2M159.5 440v-2M159.5 39v2M160.5 440v-2M160.5 39v2M162.5 440v-2M162.5 39v2M163.5 440v-2M163.5 39v2M165.5 440v-2M165.5 39v2M167.5 440v-2M167.5 39v2M168.5 440v-4M168.5 39v4M170.5 440v-2M170.5 39v2M171.5 440v-2M171.5 39v2M173.5 440v-2M173.5 39v2M174.5 440v-2M174.5 39v2M176.5 440v-2M176.5 39v2M178.5 440v-2M178.5 39v2M179.5 440v-2M179.5 39v2M181.5 440v-2M181.5 39v2M182.5 440v-2M182.5 39v2M184.5 440v-2M184.5 39v2M185.5 440v-2M185.5 39v2M187.5 440v-2M187.5 39v2M189.5 440v-2M189.5 39v2M190.5 440v-2M190.5 39v2M192.5 440v-2M192.5 39v2M193.5 440v-2M193.5 39v2M195.5 440v-2M195.5 39v2M196.5 440v-2M196.5 39v2M198.5 440v-2M198.5 39v2M200.5 440v-2M200.5 39v2M201.5 440v-2M201.5 39v2M203.5 440v-2M203.5 39v2M204.5 440v-2M204.5 39v2M206.5 440v-4M206.5 39v4M208.5 440v-2M208.5 39v2M209.5 440v-2M209.5 39v2M211.5 440v-2M211.5 39v2M212.5 440v-2M212.5 39v2M214.5 440v-2M214.5 39v2M215.5 440v-2M215.5 39v2M217.5 440v-2M217.5 39v2M219.5 440v-2M219.5 39v2M220.5 440v-2M220.5 39v2M222.5 440v-2M222.5 39v2M223.5 440v-2M223.5 39v2M225.5 440v-2M225.5 39v2M226.5 440v-2M226.5 39v2M228.5 440v-2M228.5 39v2M230.5 440v-2M230.5 39v2M231.5 440v-2M231.5 39v2M233.5 440v-2M233.5 39v2M234.5 440v-2M234.5 39v2M236.5 440v-2M236.5 39v2M237.5 440v-2M237.5 39v2M239.5 440v-2M239.5 39v2M241.5 440v-2M241.5 39v2M242.5 440v-2M242.5 39v2M244.5 440v-4M244.5 39v4M245.5 440v-2M245.5 39v2M247.5 440v-2M247.5 39v2M248.5 440v-2M248.5 39v2M250.5 440v-2M250.5 39v2M252.5 440v-2M252.5 39v2M253.5 440v-2M253.5 39v2M255.5 440v-2M255.5 39v2M256.5 440v-2M256.5 39v2M258.5 440v-2M258.5 39v2M259.5 440v-2M259.5 39v2M261.5 440v-2M261.5 39v2M263.5 440v-2M263.5 39v2M264.5 440v-2M264.5 39v2M266.5 440v-2M266.5 39v2M267.5 440v-2M267.5 39v2M269.5 440v-2M269.5 39v2M270.5 440v-2M270.5 39v2M272.5 440v-2M272.5 39v2M274.5 440v-2M274.5 39v2M275.5 440v-2M275.5 39v2M277.5 440v-2M277.5 39v2M278.5 440v-2M278.5 39v2M280.5 440v-2M280.5 39v2M281.5 440v-4M281.5 39v4M283.5 440v-2M283.5 39v2M285.5 440v-2M285.5 39v2M286.5 440v-2M286.5 39v2M288.5 440v-2M288.5 39v2M289.5 440v-2M289.5 39v2M291.5 440v-2M291.5 39v2M292.5 440v-2M292.5 39v2M294.5 440v-2M294.5 39v2M296.5 440v-2M296.5 39v2M297.5 440v-2M297.5 39v2M299.5 440v-2M299.5 39v2M300.5 440v-2M300.5 39v2M302.5 440v-2M302.5 39v2M303.5 440v-2M303.5 39v2M305.5 440v-2M305.5 39v2M307.5 440v-2M307.5 39v2M308.5 440v-2M308.5 39v2M310.5 440v-2M310.5 39v2M311.5 440v-2M311.5 39v2M313.5 440v-2M313.5 39v2M314.5 440v-2M314.5 39v2M316.5 440v-2M316.5 39v2M318.5 440v-2M318.5 39v2M319.5 440v-4M319.5 39v4M321.5 440v-2M321.5 39v2M322.5 440v-2M322.5 39v2M324.5 440v-2M324.5 39v2M325.5 440v-2M325.5 39v2M327.5 440v-2M327.5 39v2M329.5 440v-2M329.5 39v2M330.5 440v-2M330.5 39v2M332.5 440v-2M332.5 39v2M333.5 440v-2M333.5 39v2M335.5 440v-2M335.5 39v2M336.5 440v-2M336.5 39v2M338.5 440v-2M338.5 39v2M340.5 440v-2M340.5 39v2M341.5 440v-2M341.5 39v2M343.5 440v-2M343.5 39v2M344.5 440v-2M344.5 39v2M346.5 440v-2M346.5 39v2M347.5 440v-2M347.5 39v2M349.5 440v-2M349.5 39v2M351.5 440v-2M351.5 39v2M352.5 440v-2M352.5 39v2M354.5 440v-2M354.5 39v2M355.5 440v-2M355.5 39v2M357.5 440v-4M357.5 39v4M358.5 440v-2M358.5 39v2M360.5 440v-2M360.5 39v2M362.5 440v-2M362.5 39v2M363.5 440v-2M363.5 39v2M365.5 440v-2M365.5 39v2M366.5 440v-2M366.5 39v2M368.5 440v-2M368.5 39v2M369.5 440v-2M369.5 39v2M371.5 440v-2M371.5 39v2M373.5 440v-2M373.5 39v2M374.5 440v-2M374.5 39v2M376.5 440v-2M376.5 39v2M377.5 440v-2M377.5 39v2M379.5 440v-2M379.5 39v2M380.5 440v-2M380.5 39v2M382.5 440v-2M382.5 39v2M384.5 440v-2M384.5 39v2M385.5 440v-2M385.5 39v2M387.5 440v-2M387.5 39v2M388.5 440v-2M388.5 39v2M390.5 440v-2M390.5 39v2M391.5 440v-2M391.5 39v2M393.5 440v-2M393.5 39v2M395.5 440v-4M395.5 39v4M396.5 440v-2M396.5 39v2M398.5 440v-2M398.5 39v2M399.5 440v-2M399.5 39v2M401.5 440v-2M401.5 39v2M402.5 440v-2M402.5 39v2M404.5 440v-2M404.5 39v2M406.5 440v-2M406.5 39v2M407.5 440v-2M407.5 39v2M409.5 440v-2M409.5 39v2M410.5 440v-2M410.5 39v2M412.5 440v-2M412.5 39v2M413.5 440v-2M413.5 39v2M415.5 440v-2M415.5 39v2M417.5 440v-2M417.5 39v2M418.5 440v-2M418.5 39v2M420.5 440v-2M420.5 39v2M421.5 440v-2M421.5 39v2M423.5 440v-2M423.5 39v2M424.5 440v-2M424.5 39v2M426.5 440v-2M426.5 39v2M428.5 440v-2M428.5 39v2M429.5 440v-2M429.5 39v2M431.5 440v-2M431.5 39v2M432.5 440v-4M432.5 39v4M434.5 440v-2M434.5 39v2M435.5 440v-2M435.5 39v2M437.5 440v-2M437.5 39v2M439.5 440v-2M439.5 39v2M440.5 440v-2M440.5 39v2M442.5 440v-2M442.5 39v2M443.5 440v-2M443.5 39v2M445.5 440v-2M445.5 39v2M446.5 440v-2M446.5 39v2M448.5 440v-2M448.5 39v2M450.5 440v-2M450.5 39v2M451.5 440v-2M451.5 39v2M453.5 440v-2M453.5 39v2M454.5 440v-2M454.5 39v2M456.5 440v-2M456.5 39v2M457.5 440v-2M457.5 39v2M459.5 440v-2M459.5 39v2M461.5 440v-2M461.5 39v2M462.5 440v-2M462.5 39v2M464.5 440v-2M464.5 39v2M465.5 440v-2M465.5 39v2M467.5 440v-2M467.5 39v2M468.5 440v-2M468.5 39v2M470.5 440v-4M470.5 39v4M472.5 440v-2M472.5 39v2M473.5 440v-2M473.5 39v2M475.5 440v-2M475.5 39v2M476.5 440v-2M476.5 39v2M478.5 440v-2M478.5 39v2M480.5 440v-2M480.5 39v2M481.5 440v-2M481.5 39v2M483.5 440v-2M483.5 39v2M484.5 440v-2M484.5 39v2M486.5 440v-2M486.5 39v2M487.5 440v-2M487.5 39v2M489.5 440v-2M489.5 39v2M491.5 440v-2M491.5 39v2M492.5 440v-2M492.5 39v2M494.5 440v-2M494.5 39v2M495.5 440v-2M495.5 39v2M497.5 440v-2M497.5 39v2M498.5 440v-2M498.5 39v2M500.5 440v-2M500.5 39v2M502.5 440v-2M502.5 39v2M503.5 440v-2M503.5 39v2M505.5 440v-2M505.5 39v2M506.5 440v-2M506.5 39v2M508.5 440v-4M508.5 39v4M509.5 440v-2M509.5 39v2M511.5 440v-2M511.5 39v2M513.5 440v-2M513.5 39v2M514.5 440v-2M514.5 39v2M516.5 440v-2M516.5 39v2M517.5 440v-2M517.5 39v2M519.5 440v-2M519.5 39v2M520.5 440v-2M520.5 39v2M522.5 440v-2M522.5 39v2M524.5 440v-2M524.5 39v2M525.5 440v-2M525.5 39v2M527.5 440v-2M527.5 39v2M528.5 440v-2M528.5 39v2M530.5 440v-2M530.5 39v2M531.5 440v-2M531.5 39v2M533.5 440v-2M533.5 39v2M535.5 440v-2M535.5 39v2M536.5 440v-2M536.5 39v2M538.5 440v-2M538.5 39v2M539.5 440v-2M539.5 39v2M541.5 440v-2M541.5 39v2M542.5 440v-2M542.5 39v2M544.5 440v-2M544.5 39v2M546.5 440v-4M546.5 39v4M547.5 440v-2M547.5 39v2M549.5 440v-2M549.5 39v2M550.5 440v-2M550.5 39v2M552.5 440v-2M552.5 39v2M553.5 440v-2M553.5 39v2M555.5 440v-2M555.5 39v2M557.5 440v-2M557.5 39v2M558.5 440v-2M558.5 39v2M560.5 440v-2M560.5 39v2M561.5 440v-2M561.5 39v2M563.5 440v-2M563.5 39v2M564.5 440v-2M564.5 39v2M566.5 440v-2M566.5 39v2M568.5 440v-2M568.5 39v2M569.5 440v-2M569.5 39v2M571.5 440v-2M571.5 39v2M572.5 440v-2M572.5 39v2M574.5 440v-2M574.5 39v2M575.5 440v-2M575.5 39v2M577.5 440v-2M577.5 39v2M579.5 440v-2M579.5 39v2M580.5 440v-2M580.5 39v2M582.5 440v-2M582.5 39v2M583.5 440v-4M583.5 39v4M585.5 440v-2M585.5 39v2M586.5 440v-2M586.5 39v2M588.5 440v-2M588.5 39v2M590.5 440v-2M590.5 39v2M591.5 440v-2M591.5 39v2M593.5 440v-2M593.5 39v2M594.5 440v-2M594.5 39v2M596.5 440v-2M596.5 39v2M597.5 440v-2M597.5 39v2M599.5 440v-2M599.5 39v2M601.5 440v-2M601.5 39v2M602.5 440v-2M602.5 39v2M604.5 440v-2M604.5 39v2M605.5 440v-2M605.5 39v2M607.5 440v-2M607.5 39v2M608.5 440v-2M608.5 39v2M610.5 440v-2M610.5 39v2M612.5 440v-2M612.5 39v2M613.5 440v-2M613.5 39v2M615.5 440v-2M615.5 39v2M616.5 440v-2M616.5 39v2M618.5 440v-2M618.5 39v2M619.5 440v-2M619.5 39v2M621.5 440v-4M621.5 39v4" stroke="#000" stroke-width="1" fill="none" shape-rendering="crispEdges"/>
<text x="136" y="23" textLength="402" lengthAdjust="spacing" >Constitutional amendment: reduce the length of DPL election process</text>
<text x="42" y="445" textLength="6" lengthAdjust="spacing" >0</text>
<text x="36" y="378" textLength="12" lengthAdjust="spacing" >50</text>
<text x="30" y="311" textLength="18" lengthAdjust="spacing" >100</text>
<text x="30" y="244" textLength="18" lengthAdjust="spacing" >150</text>
<text x="30" y="177" textLength="18" lengthAdjust="spacing" >200</text>
<text x="30" y="110" textLength="18" lengthAdjust="spacing" >250</text>
<text x="30" y="43" textLength="18" lengthAdjust="spacing" >300</text>
<text x="39" y="458" textLength="30" lengthAdjust="spacing" >09/23</text>
<text x="39" y="471" textLength="30" lengthAdjust="spacing" >00:00</text>
<text x="77" y="458" textLength="30" lengthAdjust="spacing" >09/24</text>
<text x="77" y="471" textLength="30" lengthAdjust="spacing" >00:00</text>
<text x="114" y="458" textLength="30" lengthAdjust="spacing" >09/25</text>
<text x="114" y="471" textLength="30" lengthAdjust="spacing" >00:00</text>
<text x="152" y="458" textLength="30" lengthAdjust="spacing" >09/26</text>
<text x="152" y="471" textLength="30" lengthAdjust="spacing" >00:00</text>
<text x="190" y="458" textLength="30" lengthAdjust="spacing" >09/27</text>
<text x="190" y="471" textLength="30" lengthAdjust="spacing" >00:00</text>
<text x="228" y="458" textLength="30" lengthAdjust="spacing" >09/28</text>
<text x="228" y="471" textLength="30" lengthAdjust="spacing" >00:00</text>
<text x="265" y="458" textLength="30" lengthAdjust="spacing" >09/29</text>
<text x="265" y="471" textLength="30" lengthAdjust="spacing" >00:00</text>
<text x="303" y="458" textLength="30" lengthAdjust="spacing" >09/30</text>
<text x="303" y="471" textLength="30" lengthAdjust="spacing" >00:00</text>
<text x="341" y="458" textLength="30" lengthAdjust="spacing" >10/01</text>
<text x="341" y="471" textLength="30" lengthAdjust="spacing" >00:00</text>
<text x="379" y="458" textLength="30" lengthAdjust="spacing" >10/02</text>
<text x="379" y="471" textLength="30" lengthAdjust="spacing" >00:00</text>
<text x="416" y="458" textLength="30" lengthAdjust="spacing" >10/03</text>
<text x="416" y="471" textLength="30" lengthAdjust="spacing" >00:00</text>
<text x="454" y="458" textLength="30" lengthAdjust="spacing" >10/04</text>
<text x="454" y="471" textLength="30" lengthAdjust="spacing" >00:00</text>
<text x="492" y="458" textLength="30" lengthAdjust="spacing" >10/05</text>
<text x="492" y="471" textLength="30" lengthAdjust="spacing" >00:00</text>
<text x="530" y="458" textLength="30" lengthAdjust="spacing" >10/06</text>
<text x="530" y="471" textLength="30" lengthAdjust="spacing" >00:00</text>
<text x="567" y="458" textLength="30" lengthAdjust="spacing" >10/07</text>
<text x="567" y="471" textLength="30" lengthAdjust="spacing" >00:00</text>
<text x="605" y="458" textLength="30" lengthAdjust="spacing" >10/08</text>
<text x="605" y="471" textLength="30" lengthAdjust="spacing" >00:00</text>
<text x="292" y="477" textLength="90" lengthAdjust="spacing" >Date/Time (UTC)</text>
<text x="0" y="0" textLength="42" lengthAdjust="spacing" transform="translate(17,262) rotate(-90)">Ballots</text>
<path d="M68.5 439.5 L72.5 436.5 L73.5 435.5 L77.5 435.5 L153.5 433.5 L156.5 433.5 L170.5 431.5 L170.5 429.5 L172.5 428.5 L376.5 427.5 L379.5 425.5 L381.5 424.5 L383.5 423.5 L384.5 421.5 L395.5 420.5 L396.5 420.5 L404.5 417.5 L407.5 416.5 L409.5 415.5 L431.5 413.5 L447.5 412.5 L477.5 411.5 L484.5 409.5 L485.5 409.5 L492.5 406.5 L497.5 405.5 L516.5 404.5 L532.5 402.5" stroke="#ff0000" stroke-width="1" fill="none" shape-rendering="crispEdges"/>
<use href="#mp" x="68" y="439"/><use href="#mp" x="77" y="435"/><use href="#mp" x="153" y="433"/><use href="#mp" x="156" y="433"/><use href="#mp" x="170" y="431"/><use href="#mp" x="170" y="429"/><use href="#mp" x="172" y="428"/><use href="#mp" x="376" y="427"/><use href="#mp" x="379" y="425"/><use href="#mp" x="381" y="424"/><use href="#mp" x="383" y="423"/><use href="#mp" x="384" y="421"/><use href="#mp" x="395" y="420"/><use href="#mp" x="396" y="420"/><use href="#mp" x="404" y="417"/><use href="#mp" x="407" y="416"/><use href="#mp" x="409" y="415"/><use href="#mp" x="431" y="413"/><use href="#mp" x="447" y="412"/><use href="#mp" x="477" y="411"/><use href="#mp" x="484" y="409"/><use href="#mp" x="485" y="409"/><use href="#mp" x="492" y="406"/><use href="#mp" x="497" y="405"/><use href="#mp" x="516" y="404"/><use href="#mp" x="532" y="402"/>
<path d="M65.5 439.5 L68.5 438.5 L68.5 424.5 L68.5 420.5 L70.5 415.5 L72.5 412.5 L74.5 409.5 L75.5 406.5 L76.5 403.5 L76.5 396.5 L78.5 390.5 L78.5 384.5 L80.5 376.5 L82.5 372.5 L83.5 370.5 L84.5 365.5 L87.5 360.5 L88.5 356.5 L89.5 350.5 L92.5 345.5 L94.5 340.5 L97.5 336.5 L100.5 332.5 L102.5 332.5 L106.5 330.5 L108.5 329.5 L110.5 328.5 L112.5 326.5 L116.5 322.5 L119.5 318.5 L123.5 315.5 L125.5 313.5 L128.5 310.5 L131.5 309.5 L133.5 307.5 L136.5 306.5 L145.5 306.5 L147.5 304.5 L150.5 304.5 L155.5 302.5 L160.5 298.5 L165.5 294.5 L168.5 291.5 L178.5 288.5 L180.5 286.5 L184.5 286.5 L187.5 286.5 L190.5 284.5 L194.5 283.5 L196.5 282.5 L200.5 281.5 L202.5 280.5 L206.5 278.5 L208.5 278.5 L212.5 277.5 L214.5 277.5 L230.5 276.5 L232.5 274.5 L234.5 273.5 L236.5 272.5 L238.5 270.5 L274.5 270.5 L282.5 268.5 L316.5 267.5 L318.5 266.5 L351.5 263.5 L353.5 262.5 L366.5 261.5 L369.5 258.5 L370.5 255.5 L372.5 249.5 L374.5 246.5 L376.5 242.5 L378.5 238.5 L379.5 236.5 L381.5 234.5 L384.5 231.5 L386.5 228.5 L388.5 224.5 L390.5 220.5 L392.5 216.5 L394.5 212.5 L396.5 208.5 L397.5 204.5 L398.5 200.5 L398.5 194.5 L400.5 190.5 L404.5 187.5 L407.5 185.5 L411.5 183.5 L415.5 181.5 L419.5 179.5 L424.5 176.5 L428.5 175.5 L432.5 172.5 L433.5 167.5 L435.5 165.5 L439.5 164.5 L453.5 163.5 L454.5 162.5 L456.5 160.5 L457.5 158.5 L459.5 156.5 L463.5 155.5 L468.5 153.5 L471.5 153.5 L474.5 152.5 L479.5 151.5 L494.5 148.5 L497.5 147.5 L499.5 146.5 L502.5 144.5 L504.5 144.5 L508.5 143.5 L510.5 142.5 L513.5 141.5 L515.5 140.5 L517.5 140.5 L532.5 138.5 L536.5 137.5 L539.5 137.5 L541.5 136.5 L544.5 136.5 L571.5 134.5 L576.5 133.5 L578.5 132.5 L582.5 130.5 L585.5 130.5 L587.5 129.5 L590.5 128.5 L591.5 128.5" stroke="#00c000" stroke-width="1" fill="none" shape-rendering="crispEdges"/>
<use href="#mx" x="65" y="439"/><use href="#mx" x="68" y="424"/><use href="#mx" x="68" y="423"/><use href="#mx" x="68" y="421"/><use href="#mx" x="68" y="420"/><use href="#mx" x="68" y="419"/><use href="#mx" x="69" y="417"/><use href="#mx" x="69" y="416"/><use href="#mx" x="70" y="415"/><use href="#mx" x="71" y="413"/><use href="#mx" x="72" y="412"/><use href="#mx" x="73" y="411"/><use href="#mx" x="73" y="409"/><use href="#mx" x="74" y="409"/><use href="#mx" x="74" y="408"/><use href="#mx" x="75" y="406"/><use href="#mx" x="75" y="405"/><use href="#mx" x="75" y="404"/><use href="#mx" x="76" y="403"/><use href="#mx" x="76" y="402"/><use href="#mx" x="76" y="401"/><use href="#mx" x="76" y="400"/><use href="#mx" x="76" y="398"/><use href="#mx" x="76" y="397"/><use href="#mx" x="76" y="396"/><use href="#mx" x="77" y="394"/><use href="#mx" x="77" y="393"/><use href="#mx" x="77" y="392"/><use href="#mx" x="78" y="390"/><use href="#mx" x="78" y="389"/><use href="#mx" x="78" y="388"/><use href="#mx" x="78" y="386"/><use href="#mx" x="78" y="385"/><use href="#mx" x="78" y="384"/><use href="#mx" x="79" y="384"/><use href="#mx" x="79" y="382"/><use href="#mx" x="79" y="381"/><use href="#mx" x="79" y="380"/><use href="#mx" x="79" y="378"/><use href="#mx" x="79" y="377"/><use href="#mx" x="80" y="376"/><use href="#mx" x="80" y="374"/><use href="#mx" x="81" y="373"/><use href="#mx" x="82" y="372"/><use href="#mx" x="83" y="370"/><use href="#mx" x="83" y="369"/><use href="#mx" x="84" y="368"/><use href="#mx" x="84" y="366"/><use href="#mx" x="84" y="365"/><use href="#mx" x="85" y="364"/><use href="#mx" x="86" y="362"/><use href="#mx" x="86" y="361"/><use href="#mx" x="87" y="360"/><use href="#mx" x="87" y="358"/><use href="#mx" x="87" y="357"/><use href="#mx" x="88" y="356"/><use href="#mx" x="88" y="354"/><use href="#mx" x="88" y="353"/><use href="#mx" x="89" y="352"/><use href="#mx" x="89" y="350"/><use href="#mx" x="90" y="349"/><use href="#mx" x="91" y="348"/><use href="#mx" x="91" y="346"/><use href="#mx" x="92" y="345"/><use href="#mx" x="93" y="344"/><use href="#mx" x="93" y="342"/><use href="#mx" x="94" y="341"/><use href="#mx" x="94" y="340"/><use href="#mx" x="95" y="338"/><use href="#mx" x="96" y="337"/><use href="#mx" x="97" y="336"/><use href="#mx" x="97" y="335"/><use href="#mx" x="98" y="334"/><use href="#mx" x="99" y="333"/><use href="#mx" x="100" y="332"/><use href="#mx" x="102" y="332"/><use href="#mx" x="102" y="331"/><use href="#mx" x="106" y="330"/><use href="#mx" x="108" y="329"/><use href="#mx" x="110" y="328"/><use href="#mx" x="110" y="327"/><use href="#mx" x="112" y="326"/><use href="#mx" x="113" y="325"/><use href="#mx" x="114" y="323"/><use href="#mx" x="115" y="322"/><use href="#mx" x="116" y="322"/><use href="#mx" x="117" y="321"/><use href="#mx" x="118" y="319"/><use href="#mx" x="119" y="318"/><use href="#mx" x="120" y="317"/><use href="#mx" x="122" y="315"/><use href="#mx" x="123" y="315"/><use href="#mx" x="124" y="314"/><use href="#mx" x="125" y="313"/><use href="#mx" x="127" y="311"/><use href="#mx" x="128" y="310"/><use href="#mx" x="129" y="310"/><use href="#mx" x="131" y="309"/><use href="#mx" x="133" y="307"/><use href="#mx" x="136" y="306"/><use href="#mx" x="145" y="306"/><use href="#mx" x="147" y="304"/><use href="#mx" x="150" y="304"/><use href="#mx" x="151" y="303"/><use href="#mx" x="154" y="302"/><use href="#mx" x="155" y="302"/><use href="#mx" x="156" y="301"/><use href="#mx" x="158" y="299"/><use href="#mx" x="159" y="298"/><use href="#mx" x="160" y="298"/><use href="#mx" x="161" y="297"/><use href="#mx" x="163" y="295"/><use href="#mx" x="164" y="294"/><use href="#mx" x="165" y="294"/><use href="#mx" x="166" y="293"/><use href="#mx" x="168" y="291"/><use href="#mx" x="178" y="288"/><use href="#mx" x="180" y="286"/><use href="#mx" x="184" y="286"/><use href="#mx" x="187" y="286"/><use href="#mx" x="190" y="284"/><use href="#mx" x="194" y="283"/><use href="#mx" x="196" y="282"/><use href="#mx" x="200" y="281"/><use href="#mx" x="202" y="280"/><use href="#mx" x="206" y="278"/><use href="#mx" x="208" y="278"/><use href="#mx" x="212" y="277"/><use href="#mx" x="214" y="277"/><use href="#mx" x="230" y="276"/><use href="#mx" x="232" y="274"/><use href="#mx" x="234" y="273"/><use href="#mx" x="236" y="272"/><use href="#mx" x="238" y="270"/><use href="#mx" x="274" y="270"/><use href="#mx" x="282" y="268"/><use href="#mx" x="316" y="267"/><use href="#mx" x="318" y="266"/><use href="#mx" x="351" y="263"/><use href="#mx" x="353" y="262"/><use href="#mx" x="366" y="261"/><use href="#mx" x="367" y="260"/><use href="#mx" x="368" y="259"/><use href="#mx" x="369" y="258"/><use href="#mx" x="370" y="256"/><use href="#mx" x="370" y="255"/><use href="#mx" x="371" y="254"/><use href="#mx" x="371" y="252"/><use href="#mx" x="372" y="251"/><use href="#mx" x="372" y="250"/><use href="#mx" x="372" y="249"/><use href="#mx" x="373" y="248"/><use href="#mx" x="374" y="247"/><use href="#mx" x="374" y="246"/><use href="#mx" x="375" y="244"/><use href="#mx" x="376" y="243"/><use href="#mx" x="376" y="242"/><use href="#mx" x="377" y="240"/><use href="#mx" x="377" y="239"/><use href="#mx" x="378" y="238"/><use href="#mx" x="379" y="236"/><use href="#mx" x="380" y="235"/><use href="#mx" x="381" y="234"/><use href="#mx" x="383" y="232"/><use href="#mx" x="384" y="231"/><use href="#mx" x="385" y="230"/><use href="#mx" x="386" y="228"/><use href="#mx" x="387" y="227"/><use href="#mx" x="387" y="226"/><use href="#mx" x="388" y="224"/><use href="#mx" x="388" y="223"/><use href="#mx" x="389" y="222"/><use href="#mx" x="389" y="220"/><use href="#mx" x="390" y="220"/><use href="#mx" x="390" y="219"/><use href="#mx" x="391" y="218"/><use href="#mx" x="391" y="216"/><use href="#mx" x="392" y="216"/><use href="#mx" x="392" y="215"/><use href="#mx" x="393" y="214"/><use href="#mx" x="394" y="212"/><use href="#mx" x="394" y="211"/><use href="#mx" x="395" y="210"/><use href="#mx" x="396" y="208"/><use href="#mx" x="396" y="207"/><use href="#mx" x="397" y="206"/><use href="#mx" x="397" y="204"/><use href="#mx" x="397" y="203"/><use href="#mx" x="398" y="201"/><use href="#mx" x="398" y="200"/><use href="#mx" x="398" y="199"/><use href="#mx" x="398" y="197"/><use href="#mx" x="398" y="196"/><use href="#mx" x="398" y="195"/><use href="#mx" x="398" y="194"/><use href="#mx" x="399" y="193"/><use href="#mx" x="399" y="192"/><use href="#mx" x="399" y="191"/><use href="#mx" x="400" y="190"/><use href="#mx" x="400" y="189"/><use href="#mx" x="402" y="188"/><use href="#mx" x="404" y="187"/><use href="#mx" x="405" y="187"/><use href="#mx" x="407" y="185"/><use href="#mx" x="409" y="184"/><use href="#mx" x="411" y="183"/><use href="#mx" x="412" y="183"/><use href="#mx" x="415" y="181"/><use href="#mx" x="417" y="180"/><use href="#mx" x="419" y="179"/><use href="#mx" x="422" y="177"/><use href="#mx" x="424" y="176"/><use href="#mx" x="425" y="176"/><use href="#mx" x="428" y="175"/><use href="#mx" x="430" y="173"/><use href="#mx" x="432" y="172"/><use href="#mx" x="432" y="171"/><use href="#mx" x="433" y="169"/><use href="#mx" x="433" y="168"/><use href="#mx" x="433" y="167"/><use href="#mx" x="434" y="167"/><use href="#mx" x="435" y="165"/><use href="#mx" x="439" y="164"/><use href="#mx" x="453" y="163"/><use href="#mx" x="454" y="162"/><use href="#mx" x="456" y="160"/><use href="#mx" x="457" y="158"/><use href="#mx" x="459" y="156"/><use href="#mx" x="463" y="155"/><use href="#mx" x="468" y="153"/><use href="#mx" x="471" y="153"/><use href="#mx" x="474" y="152"/><use href="#mx" x="479" y="151"/><use href="#mx" x="494" y="148"/><use href="#mx" x="497" y="147"/><use href="#mx" x="499" y="146"/><use href="#mx" x="502" y="144"/><use href="#mx" x="504" y="144"/><use href="#mx" x="508" y="143"/><use href="#mx" x="510" y="142"/><use href="#mx" x="513" y="141"/><use href="#mx" x="515" y="140"/><use href="#mx" x="517" y="140"/><use href="#mx" x="532" y="138"/><use href="#mx" x="536" y="137"/><use href="#mx" x="539" y="137"/><use href="#mx" x="541" y="136"/><use href="#mx" x="544" y="136"/><use href="#mx" x="571" y="134"/><use href="#mx" x="576" y="133"/><use href="#mx" x="578" y="132"/><use href="#mx" x="582" y="130"/><use href="#mx" x="585" y="130"/><use href="#mx" x="587" y="129"/><use href="#mx" x="590" y="128"/><use href="#mx" x="591" y="128"/>
<path d="M64.5 439.5 L64.5 428.5 L64.5 425.5 L65.5 422.5 L66.5 419.5 L67.5 417.5 L68.5 415.5 L71.5 411.5 L72.5 407.5 L74.5 404.5 L75.5 401.5 L76.5 395.5 L77.5 391.5 L77.5 389.5 L77.5 386.5 L78.5 385.5 L78.5 383.5 L78.5 380.5 L79.5 379.5 L79.5 375.5 L79.5 372.5 L80.5 369.5 L80.5 368.5 L80.5 365.5 L81.5 363.5 L82.5 360.5 L83.5 357.5 L84.5 353.5 L85.5 352.5 L86.5 350.5 L87.5 349.5 L88.5 347.5 L89.5 344.5 L89.5 343.5 L90.5 340.5 L92.5 337.5 L93.5 334.5 L94.5 333.5 L95.5 332.5 L98.5 328.5 L99.5 328.5 L100.5 327.5 L103.5 326.5 L106.5 324.5 L109.5 322.5 L110.5 322.5 L111.5 320.5 L113.5 318.5 L114.5 316.5 L117.5 314.5 L118.5 312.5 L121.5 310.5 L121.5 310.5 L124.5 308.5 L124.5 308.5 L128.5 306.5 L128.5 306.5 L130.5 304.5 L131.5 304.5 L134.5 302.5 L134.5 302.5 L140.5 302.5 L146.5 301.5 L146.5 301.5 L147.5 300.5 L149.5 299.5 L149.5 299.5 L152.5 296.5 L153.5 295.5 L155.5 292.5 L157.5 290.5 L159.5 289.5 L159.5 289.5 L162.5 286.5 L163.5 286.5 L165.5 284.5 L165.5 284.5 L168.5 281.5 L169.5 281.5 L170.5 280.5 L170.5 280.5 L172.5 280.5 L174.5 278.5 L180.5 277.5 L182.5 275.5 L190.5 274.5 L193.5 272.5 L196.5 271.5 L199.5 270.5 L202.5 268.5 L205.5 266.5 L208.5 265.5 L211.5 264.5 L230.5 263.5 L232.5 262.5 L234.5 261.5 L236.5 260.5 L237.5 259.5 L273.5 258.5 L281.5 256.5 L316.5 255.5 L318.5 254.5 L350.5 252.5 L352.5 251.5 L365.5 249.5 L368.5 249.5 L368.5 248.5 L368.5 243.5 L370.5 241.5 L370.5 240.5 L372.5 237.5 L373.5 234.5 L374.5 232.5 L374.5 231.5 L376.5 228.5 L376.5 226.5 L377.5 225.5 L377.5 224.5 L378.5 221.5 L379.5 219.5 L380.5 215.5 L381.5 214.5 L383.5 210.5 L386.5 205.5 L386.5 204.5 L388.5 200.5 L389.5 199.5 L391.5 194.5 L394.5 190.5 L394.5 188.5 L395.5 185.5 L396.5 182.5 L397.5 181.5 L398.5 178.5 L399.5 175.5 L399.5 172.5 L400.5 168.5 L401.5 167.5 L403.5 166.5 L404.5 164.5 L407.5 162.5 L408.5 161.5 L413.5 159.5 L415.5 157.5 L419.5 155.5 L423.5 153.5 L424.5 153.5 L429.5 151.5 L431.5 150.5 L431.5 149.5 L434.5 144.5 L434.5 142.5 L435.5 139.5 L436.5 139.5 L438.5 138.5 L437.5 137.5 L446.5 136.5 L452.5 133.5 L452.5 133.5 L454.5 132.5 L456.5 130.5 L458.5 129.5 L461.5 128.5 L464.5 126.5 L466.5 125.5 L468.5 124.5 L471.5 124.5 L474.5 122.5 L476.5 121.5 L479.5 120.5 L481.5 120.5 L481.5 120.5 L484.5 119.5 L491.5 117.5 L494.5 115.5 L496.5 113.5 L498.5 112.5 L503.5 109.5 L510.5 108.5 L512.5 106.5 L514.5 105.5 L516.5 104.5 L530.5 102.5 L533.5 101.5 L540.5 99.5 L571.5 97.5 L576.5 96.5 L579.5 95.5 L582.5 94.5 L584.5 92.5 L587.5 91.5 L591.5 90.5" stroke="#0080ff" stroke-width="1" fill="none" shape-rendering="crispEdges"/>
<use href="#ms" x="64" y="439"/><use href="#ms" x="64" y="437"/><use href="#ms" x="64" y="436"/><use href="#ms" x="64" y="435"/><use href="#ms" x="64" y="433"/><use href="#ms" x="64" y="432"/><use href="#ms" x="64" y="431"/><use href="#ms" x="64" y="429"/><use href="#ms" x="64" y="428"/><use href="#ms" x="64" y="427"/><use href="#ms" x="64" y="425"/><use href="#ms" x="65" y="424"/><use href="#ms" x="64" y="423"/><use href="#ms" x="65" y="421"/><use href="#ms" x="66" y="420"/><use href="#ms" x="65" y="419"/><use href="#ms" x="69" y="417"/><use href="#ms" x="65" y="416"/><use href="#ms" x="70" y="415"/><use href="#ms" x="67" y="413"/><use href="#ms" x="73" y="412"/><use href="#ms" x="68" y="411"/><use href="#ms" x="74" y="409"/><use href="#ms" x="70" y="408"/><use href="#ms" x="74" y="406"/><use href="#ms" x="72" y="405"/><use href="#ms" x="75" y="404"/><use href="#ms" x="74" y="402"/><use href="#ms" x="75" y="401"/><use href="#ms" x="75" y="400"/><use href="#ms" x="76" y="398"/><use href="#ms" x="75" y="397"/><use href="#ms" x="76" y="396"/><use href="#ms" x="75" y="394"/><use href="#ms" x="77" y="393"/><use href="#ms" x="76" y="392"/><use href="#ms" x="77" y="390"/><use href="#ms" x="76" y="389"/><use href="#ms" x="78" y="388"/><use href="#ms" x="77" y="386"/><use href="#ms" x="78" y="385"/><use href="#ms" x="77" y="384"/><use href="#ms" x="79" y="382"/><use href="#ms" x="78" y="381"/><use href="#ms" x="79" y="380"/><use href="#ms" x="78" y="378"/><use href="#ms" x="79" y="377"/><use href="#ms" x="78" y="376"/><use href="#ms" x="79" y="374"/><use href="#ms" x="79" y="373"/><use href="#ms" x="79" y="372"/><use href="#ms" x="79" y="370"/><use href="#ms" x="80" y="369"/><use href="#ms" x="80" y="368"/><use href="#ms" x="80" y="366"/><use href="#ms" x="80" y="365"/><use href="#ms" x="81" y="364"/><use href="#ms" x="81" y="362"/><use href="#ms" x="82" y="361"/><use href="#ms" x="81" y="360"/><use href="#ms" x="83" y="358"/><use href="#ms" x="82" y="357"/><use href="#ms" x="84" y="356"/><use href="#ms" x="83" y="354"/><use href="#ms" x="86" y="353"/><use href="#ms" x="84" y="352"/><use href="#ms" x="87" y="350"/><use href="#ms" x="85" y="349"/><use href="#ms" x="88" y="348"/><use href="#ms" x="87" y="346"/><use href="#ms" x="89" y="345"/><use href="#ms" x="88" y="344"/><use href="#ms" x="90" y="342"/><use href="#ms" x="89" y="341"/><use href="#ms" x="90" y="340"/><use href="#ms" x="91" y="338"/><use href="#ms" x="91" y="337"/><use href="#ms" x="93" y="335"/><use href="#ms" x="92" y="334"/><use href="#ms" x="95" y="333"/><use href="#ms" x="95" y="331"/><use href="#ms" x="97" y="330"/><use href="#ms" x="97" y="329"/><use href="#ms" x="99" y="327"/><use href="#ms" x="103" y="326"/><use href="#ms" x="106" y="325"/><use href="#ms" x="107" y="323"/><use href="#ms" x="110" y="322"/><use href="#ms" x="110" y="321"/><use href="#ms" x="112" y="319"/><use href="#ms" x="112" y="318"/><use href="#ms" x="114" y="317"/><use href="#ms" x="115" y="315"/><use href="#ms" x="116" y="314"/><use href="#ms" x="117" y="313"/><use href="#ms" x="119" y="311"/><use href="#ms" x="121" y="310"/><use href="#ms" x="123" y="309"/><use href="#ms" x="125" y="307"/><use href="#ms" x="127" y="306"/><use href="#ms" x="130" y="305"/><use href="#ms" x="131" y="303"/><use href="#ms" x="134" y="302"/><use href="#ms" x="147" y="301"/><use href="#ms" x="148" y="299"/><use href="#ms" x="151" y="298"/><use href="#ms" x="150" y="297"/><use href="#ms" x="153" y="295"/><use href="#ms" x="153" y="294"/><use href="#ms" x="155" y="293"/><use href="#ms" x="157" y="291"/><use href="#ms" x="157" y="290"/><use href="#ms" x="159" y="289"/><use href="#ms" x="161" y="287"/><use href="#ms" x="162" y="286"/><use href="#ms" x="165" y="285"/><use href="#ms" x="166" y="283"/><use href="#ms" x="169" y="282"/><use href="#ms" x="169" y="281"/><use href="#ms" x="146" y="301"/><use href="#ms" x="171" y="280"/><use href="#ms" x="170" y="280"/><use href="#ms" x="172" y="280"/><use href="#ms" x="174" y="278"/><use href="#ms" x="180" y="277"/><use href="#ms" x="182" y="275"/><use href="#ms" x="190" y="274"/><use href="#ms" x="193" y="272"/><use href="#ms" x="196" y="271"/><use href="#ms" x="199" y="270"/><use href="#ms" x="202" y="268"/><use href="#ms" x="205" y="266"/><use href="#ms" x="208" y="265"/><use href="#ms" x="211" y="264"/><use href="#ms" x="230" y="263"/><use href="#ms" x="232" y="262"/><use href="#ms" x="234" y="261"/><use href="#ms" x="236" y="260"/><use href="#ms" x="237" y="259"/><use href="#ms" x="273" y="258"/><use href="#ms" x="281" y="256"/><use href="#ms" x="316" y="255"/><use href="#ms" x="318" y="254"/><use href="#ms" x="350" y="252"/><use href="#ms" x="352" y="251"/><use href="#ms" x="365" y="249"/><use href="#ms" x="368" y="248"/><use href="#ms" x="368" y="247"/><use href="#ms" x="369" y="246"/><use href="#ms" x="368" y="244"/><use href="#ms" x="369" y="243"/><use href="#ms" x="369" y="242"/><use href="#ms" x="369" y="240"/><use href="#ms" x="371" y="239"/><use href="#ms" x="372" y="238"/><use href="#ms" x="372" y="236"/><use href="#ms" x="374" y="235"/><use href="#ms" x="373" y="234"/><use href="#ms" x="375" y="232"/><use href="#ms" x="374" y="231"/><use href="#ms" x="375" y="230"/><use href="#ms" x="375" y="228"/><use href="#ms" x="376" y="227"/><use href="#ms" x="377" y="226"/><use href="#ms" x="377" y="224"/><use href="#ms" x="377" y="223"/><use href="#ms" x="378" y="222"/><use href="#ms" x="378" y="220"/><use href="#ms" x="379" y="219"/><use href="#ms" x="379" y="218"/><use href="#ms" x="380" y="216"/><use href="#ms" x="380" y="215"/><use href="#ms" x="380" y="214"/><use href="#ms" x="382" y="212"/><use href="#ms" x="382" y="211"/><use href="#ms" x="383" y="210"/><use href="#ms" x="383" y="208"/><use href="#ms" x="385" y="207"/><use href="#ms" x="385" y="206"/><use href="#ms" x="387" y="204"/><use href="#ms" x="386" y="203"/><use href="#ms" x="388" y="201"/><use href="#ms" x="387" y="200"/><use href="#ms" x="390" y="199"/><use href="#ms" x="389" y="197"/><use href="#ms" x="391" y="196"/><use href="#ms" x="391" y="195"/><use href="#ms" x="392" y="193"/><use href="#ms" x="392" y="192"/><use href="#ms" x="394" y="191"/><use href="#ms" x="394" y="189"/><use href="#ms" x="394" y="188"/><use href="#ms" x="395" y="187"/><use href="#ms" x="395" y="185"/><use href="#ms" x="396" y="184"/><use href="#ms" x="397" y="183"/><use href="#ms" x="396" y="181"/><use href="#ms" x="398" y="180"/><use href="#ms" x="398" y="179"/><use href="#ms" x="398" y="177"/><use href="#ms" x="399" y="176"/><use href="#ms" x="399" y="175"/><use href="#ms" x="399" y="173"/><use href="#ms" x="399" y="172"/><use href="#ms" x="400" y="171"/><use href="#ms" x="400" y="169"/><use href="#ms" x="400" y="168"/><use href="#ms" x="402" y="167"/><use href="#ms" x="403" y="165"/><use href="#ms" x="404" y="164"/><use href="#ms" x="407" y="163"/><use href="#ms" x="406" y="161"/><use href="#ms" x="413" y="160"/><use href="#ms" x="409" y="159"/><use href="#ms" x="418" y="157"/><use href="#ms" x="415" y="156"/><use href="#ms" x="422" y="155"/><use href="#ms" x="423" y="153"/><use href="#ms" x="426" y="152"/><use href="#ms" x="430" y="151"/><use href="#ms" x="430" y="149"/><use href="#ms" x="433" y="148"/><use href="#ms" x="432" y="147"/><use href="#ms" x="433" y="145"/><use href="#ms" x="433" y="144"/><use href="#ms" x="434" y="143"/><use href="#ms" x="434" y="141"/><use href="#ms" x="436" y="140"/><use href="#ms" x="436" y="138"/><use href="#ms" x="368" y="249"/><use href="#ms" x="438" y="138"/><use href="#ms" x="437" y="138"/><use href="#ms" x="437" y="137"/><use href="#ms" x="446" y="136"/><use href="#ms" x="452" y="133"/><use href="#ms" x="454" y="132"/><use href="#ms" x="455" y="130"/><use href="#ms" x="456" y="130"/><use href="#ms" x="458" y="129"/><use href="#ms" x="461" y="128"/><use href="#ms" x="464" y="126"/><use href="#ms" x="466" y="125"/><use href="#ms" x="467" y="125"/><use href="#ms" x="468" y="124"/><use href="#ms" x="470" y="124"/><use href="#ms" x="471" y="124"/><use href="#ms" x="473" y="122"/><use href="#ms" x="474" y="122"/><use href="#ms" x="476" y="121"/><use href="#ms" x="477" y="121"/><use href="#ms" x="479" y="120"/><use href="#ms" x="481" y="120"/><use href="#ms" x="484" y="119"/><use href="#ms" x="491" y="117"/><use href="#ms" x="494" y="115"/><use href="#ms" x="496" y="113"/><use href="#ms" x="498" y="112"/><use href="#ms" x="503" y="109"/><use href="#ms" x="510" y="108"/><use href="#ms" x="512" y="106"/><use href="#ms" x="514" y="105"/><use href="#ms" x="516" y="104"/><use href="#ms" x="530" y="102"/><use href="#ms" x="533" y="101"/><use href="#ms" x="540" y="99"/><use href="#ms" x="571" y="97"/><use href="#ms" x="576" y="96"/><use href="#ms" x="579" y="95"/><use href="#ms" x="582" y="94"/><use href="#ms" x="584" y="92"/><use href="#ms" x="587" y="91"/><use href="#ms" x="591" y="90"/>
<path d="M65.5 440.5 L65.5 424.5 L66.5 423.5 L68.5 421.5 L69.5 418.5 L70.5 416.5 L73.5 416.5 L74.5 415.5 L74.5 410.5 L76.5 408.5 L76.5 400.5 L77.5 392.5 L79.5 391.5 L79.5 378.5 L80.5 374.5 L82.5 372.5 L84.5 365.5 L85.5 362.5 L88.5 359.5 L88.5 352.5 L90.5 349.5 L93.5 346.5 L95.5 342.5 L97.5 337.5 L100.5 336.5 L103.5 335.5 L106.5 334.5 L109.5 333.5 L111.5 331.5 L113.5 330.5 L114.5 329.5 L117.5 324.5 L119.5 321.5 L123.5 319.5 L125.5 317.5 L128.5 315.5 L131.5 314.5 L133.5 313.5 L135.5 312.5 L137.5 311.5 L146.5 310.5 L152.5 308.5 L155.5 307.5 L156.5 302.5 L159.5 300.5 L163.5 300.5 L165.5 298.5 L166.5 295.5 L169.5 295.5 L179.5 294.5 L183.5 292.5 L187.5 290.5 L194.5 288.5 L200.5 285.5 L206.5 283.5 L210.5 282.5 L216.5 281.5 L227.5 280.5 L234.5 278.5 L237.5 275.5 L256.5 274.5 L276.5 274.5 L280.5 272.5 L299.5 272.5 L317.5 270.5 L327.5 270.5 L343.5 268.5 L352.5 268.5 L354.5 266.5 L368.5 265.5 L370.5 262.5 L371.5 258.5 L373.5 254.5 L374.5 248.5 L376.5 245.5 L377.5 242.5 L379.5 238.5 L380.5 236.5 L382.5 235.5 L384.5 233.5 L386.5 231.5 L388.5 229.5 L389.5 226.5 L391.5 220.5 L393.5 216.5 L396.5 212.5 L398.5 208.5 L399.5 204.5 L400.5 200.5 L401.5 194.5 L401.5 192.5 L404.5 191.5 L407.5 189.5 L411.5 187.5 L415.5 185.5 L419.5 182.5 L424.5 180.5 L428.5 178.5 L432.5 177.5 L434.5 176.5 L435.5 171.5 L438.5 169.5 L446.5 168.5 L447.5 168.5 L455.5 167.5 L455.5 161.5 L458.5 161.5 L464.5 160.5 L468.5 158.5 L471.5 156.5 L474.5 156.5 L481.5 155.5 L483.5 154.5 L490.5 154.5 L491.5 153.5 L496.5 153.5 L498.5 151.5 L498.5 150.5 L502.5 148.5 L508.5 148.5 L511.5 146.5 L513.5 145.5 L515.5 144.5 L525.5 144.5 L535.5 143.5 L536.5 142.5 L541.5 141.5 L550.5 140.5 L564.5 139.5 L574.5 138.5 L580.5 136.5 L584.5 135.5 L588.5 134.5 L591.5 132.5" stroke="#c000ff" stroke-width="1" fill="none" shape-rendering="crispEdges"/>
<text x="60" y="53" textLength="96" lengthAdjust="spacing" >Rejected Ballots</text>
<path d="M163 48.5H192" stroke="#ff0000" stroke-width="1" shape-rendering="crispEdges"/>
<use href="#mp" x="177" y="48"/>
<text x="78" y="66" textLength="78" lengthAdjust="spacing" >Vote Tallied,</text>
<path d="M163 61.5H192" stroke="#00c000" stroke-width="1" shape-rendering="crispEdges"/>
<use href="#mx" x="177" y="61"/>
<text x="60" y="79" textLength="96" lengthAdjust="spacing" >Received Ballots</text>
<path d="M163 74.5H192" stroke="#0080ff" stroke-width="1" shape-rendering="crispEdges"/>
<use href="#ms" x="177" y="74"/>
<text x="60" y="92" textLength="96" lengthAdjust="spacing" >Acknowledgements</text>
<path d="M163 87.5H192" stroke="#c000ff" stroke-width="1" shape-rendering="crispEdges"/>
</svg></body></html>
